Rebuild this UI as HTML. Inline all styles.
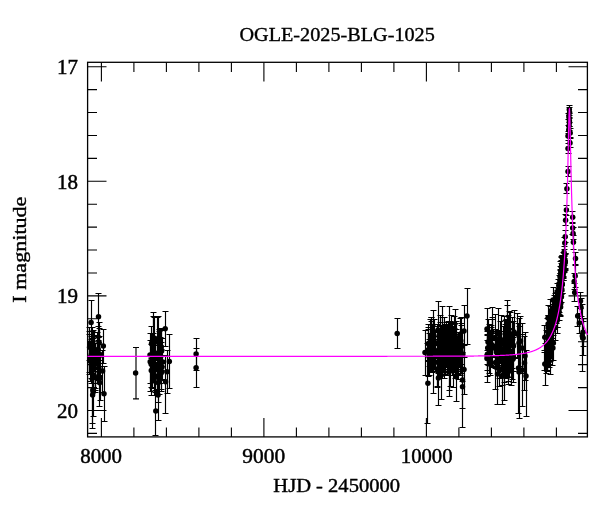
<!DOCTYPE html>
<html><head><meta charset="utf-8"><style>
html,body{margin:0;padding:0;background:#fff;}
svg{display:block;will-change:transform;}
text{font-family:"Liberation Serif",serif;fill:#000;stroke:#000;stroke-width:0.45px;}
</style></head><body>
<svg width="600" height="512" viewBox="0 0 600 512">
<rect width="600" height="512" fill="#fff"/>
<text x="239.5" y="41" font-size="19" style="stroke-width:0.35px" textLength="195.3" lengthAdjust="spacingAndGlyphs">OGLE-2025-BLG-1025</text>
<text x="57" y="74.2" font-size="20" textLength="21" lengthAdjust="spacingAndGlyphs">17</text>
<text x="57" y="188.7" font-size="20" textLength="21" lengthAdjust="spacingAndGlyphs">18</text>
<text x="57" y="303.2" font-size="20" textLength="21" lengthAdjust="spacingAndGlyphs">19</text>
<text x="57" y="417.5" font-size="20" textLength="21" lengthAdjust="spacingAndGlyphs">20</text>
<text x="80.2" y="462.7" font-size="20" textLength="41.8" lengthAdjust="spacingAndGlyphs">8000</text>
<text x="242.3" y="462.7" font-size="20" textLength="42.8" lengthAdjust="spacingAndGlyphs">9000</text>
<text x="400.8" y="462.7" font-size="20" textLength="51.7" lengthAdjust="spacingAndGlyphs">10000</text>
<text x="273.3" y="491.7" font-size="19" style="stroke-width:0.4px" textLength="126.7" lengthAdjust="spacingAndGlyphs">HJD - 2450000</text>
<text transform="translate(26.2,302.7) rotate(-90)" font-size="19" style="stroke-width:0.4px" textLength="106.1" lengthAdjust="spacingAndGlyphs">I magnitude</text>
<path d="M101.40 437V418M101.40 62.5V81.5M133.90 437V427.5M133.90 62.5V72.0M166.40 437V427.5M166.40 62.5V72.0M198.90 437V427.5M198.90 62.5V72.0M231.40 437V427.5M231.40 62.5V72.0M263.90 437V418M263.90 62.5V81.5M296.40 437V427.5M296.40 62.5V72.0M328.90 437V427.5M328.90 62.5V72.0M361.40 437V427.5M361.40 62.5V72.0M393.90 437V427.5M393.90 62.5V72.0M426.40 437V418M426.40 62.5V81.5M458.90 437V427.5M458.90 62.5V72.0M491.40 437V427.5M491.40 62.5V72.0M523.90 437V427.5M523.90 62.5V72.0M556.40 437V427.5M556.40 62.5V72.0M87.5 66.70H106.5M587.5 66.70H568.5M87.5 89.62H97.0M587.5 89.62H578.0M87.5 112.54H97.0M587.5 112.54H578.0M87.5 135.46H97.0M587.5 135.46H578.0M87.5 158.38H97.0M587.5 158.38H578.0M87.5 181.30H106.5M587.5 181.30H568.5M87.5 204.22H97.0M587.5 204.22H578.0M87.5 227.14H97.0M587.5 227.14H578.0M87.5 250.06H97.0M587.5 250.06H578.0M87.5 272.98H97.0M587.5 272.98H578.0M87.5 295.90H106.5M587.5 295.90H568.5M87.5 318.82H97.0M587.5 318.82H578.0M87.5 341.74H97.0M587.5 341.74H578.0M87.5 364.66H97.0M587.5 364.66H578.0M87.5 387.58H97.0M587.5 387.58H578.0M87.5 410.50H106.5M587.5 410.50H568.5M87.5 433.42H97.0M587.5 433.42H578.0" stroke="#000" stroke-width="1.1" fill="none"/>
<rect x="87.6" y="62.3" width="499.8" height="374.6" fill="none" stroke="#000" stroke-width="1.3"/>
<g stroke="#000" stroke-width="1.15" fill="none">
<path d="M136.0 347.5V398.8M133.0 347.5h6M133.0 398.8h6"/>
<path d="M196.5 338.5V370.5M193.5 338.5h6M193.5 370.5h6"/>
<path d="M196.5 348.5V387.5M193.5 348.5h6M193.5 387.5h6"/>
<path d="M397.5 318.5V348.5M394.5 318.5h6M394.5 348.5h6"/>
<path d="M98.5 293.5V340.5M95.5 293.5h6M95.5 340.5h6"/>
<path d="M91.5 300.5V345.5M88.5 300.5h6M88.5 345.5h6"/>
<path d="M103.5 329.5V363.5M100.5 329.5h6M100.5 363.5h6"/>
<path d="M104.5 366.5V421.5M101.5 366.5h6M101.5 421.5h6"/>
<path d="M92.5 352.5V428.5M89.5 352.5h6M89.5 428.5h6"/>
<path d="M93.5 367.5V416.5M90.5 367.5h6M90.5 416.5h6"/>
<path d="M100.5 356.5V400.5M97.5 356.5h6M97.5 400.5h6"/>
<path d="M92.5 366.5V423.5M89.5 366.5h6M89.5 423.5h6"/>
<path d="M99.5 360.5V406.5M96.5 360.5h6M96.5 406.5h6"/>
<path d="M102.5 350.5V392.5M99.5 350.5h6M99.5 392.5h6"/>
<path d="M95.5 343.5V390.5M92.5 343.5h6M92.5 390.5h6"/>
<path d="M92.5 331.5V359.5M89.5 331.5h6M89.5 359.5h6"/>
<path d="M97.5 335.5V371.5M94.5 335.5h6M94.5 371.5h6"/>
<path d="M92.5 327.5V367.5M89.5 327.5h6M89.5 367.5h6"/>
<path d="M99.5 328.5V372.5M96.5 328.5h6M96.5 372.5h6"/>
<path d="M91.5 339.5V383.5M88.5 339.5h6M88.5 383.5h6"/>
<path d="M89.5 334.5V374.5M86.5 334.5h6M86.5 374.5h6"/>
<path d="M95.5 343.5V383.5M92.5 343.5h6M92.5 383.5h6"/>
<path d="M89.5 327.5V372.5M86.5 327.5h6M86.5 372.5h6"/>
<path d="M93.5 338.5V387.5M90.5 338.5h6M90.5 387.5h6"/>
<path d="M92.5 338.5V379.5M89.5 338.5h6M89.5 379.5h6"/>
<path d="M95.5 362.5V392.5M92.5 362.5h6M92.5 392.5h6"/>
<path d="M94.5 332.5V369.5M91.5 332.5h6M91.5 369.5h6"/>
<path d="M90.5 345.5V381.5M87.5 345.5h6M87.5 381.5h6"/>
<path d="M97.5 332.5V383.5M94.5 332.5h6M94.5 383.5h6"/>
<path d="M95.5 343.5V388.5M92.5 343.5h6M92.5 388.5h6"/>
<path d="M93.5 336.5V374.5M90.5 336.5h6M90.5 374.5h6"/>
<path d="M99.5 322.5V366.5M96.5 322.5h6M96.5 366.5h6"/>
<path d="M98.5 336.5V367.5M95.5 336.5h6M95.5 367.5h6"/>
<path d="M98.5 337.5V380.5M95.5 337.5h6M95.5 380.5h6"/>
<path d="M91.5 336.5V378.5M88.5 336.5h6M88.5 378.5h6"/>
<path d="M98.5 337.5V379.5M95.5 337.5h6M95.5 379.5h6"/>
<path d="M93.5 358.5V387.5M90.5 358.5h6M90.5 387.5h6"/>
<path d="M94.5 335.5V371.5M91.5 335.5h6M91.5 371.5h6"/>
<path d="M89.5 331.5V360.5M86.5 331.5h6M86.5 360.5h6"/>
<path d="M99.5 336.5V375.5M96.5 336.5h6M96.5 375.5h6"/>
<path d="M98.5 326.5V368.5M95.5 326.5h6M95.5 368.5h6"/>
<path d="M93.5 330.5V377.5M90.5 330.5h6M90.5 377.5h6"/>
<path d="M165.5 311.5V346.5M162.5 311.5h6M162.5 346.5h6"/>
<path d="M153.5 316.5V364.5M150.5 316.5h6M150.5 364.5h6"/>
<path d="M157.5 317.5V366.5M154.5 317.5h6M154.5 366.5h6"/>
<path d="M150.5 333.5V391.5M147.5 333.5h6M147.5 391.5h6"/>
<path d="M169.5 334.5V388.5M166.5 334.5h6M166.5 388.5h6"/>
<path d="M150.5 340.5V383.5M147.5 340.5h6M147.5 383.5h6"/>
<path d="M167.5 350.5V393.5M164.5 350.5h6M164.5 393.5h6"/>
<path d="M165.5 355.5V413.5M162.5 355.5h6M162.5 413.5h6"/>
<path d="M155.5 392.5V435.5M152.5 392.5h6M152.5 435.5h6"/>
<path d="M158.5 370.5V420.5M155.5 370.5h6M155.5 420.5h6"/>
<path d="M152.5 333.5V361.5M149.5 333.5h6M149.5 361.5h6"/>
<path d="M160.5 345.5V383.5M157.5 345.5h6M157.5 383.5h6"/>
<path d="M151.5 340.5V387.5M148.5 340.5h6M148.5 387.5h6"/>
<path d="M159.5 331.5V364.5M156.5 331.5h6M156.5 364.5h6"/>
<path d="M153.5 312.5V363.5M150.5 312.5h6M150.5 363.5h6"/>
<path d="M155.5 339.5V390.5M152.5 339.5h6M152.5 390.5h6"/>
<path d="M162.5 338.5V379.5M159.5 338.5h6M159.5 379.5h6"/>
<path d="M159.5 356.5V394.5M156.5 356.5h6M156.5 394.5h6"/>
<path d="M155.5 339.5V369.5M152.5 339.5h6M152.5 369.5h6"/>
<path d="M157.5 357.5V391.5M154.5 357.5h6M154.5 391.5h6"/>
<path d="M159.5 329.5V373.5M156.5 329.5h6M156.5 373.5h6"/>
<path d="M154.5 345.5V378.5M151.5 345.5h6M151.5 378.5h6"/>
<path d="M153.5 333.5V382.5M150.5 333.5h6M150.5 382.5h6"/>
<path d="M158.5 360.5V402.5M155.5 360.5h6M155.5 402.5h6"/>
<path d="M154.5 317.5V356.5M151.5 317.5h6M151.5 356.5h6"/>
<path d="M158.5 338.5V367.5M155.5 338.5h6M155.5 367.5h6"/>
<path d="M160.5 328.5V374.5M157.5 328.5h6M157.5 374.5h6"/>
<path d="M161.5 342.5V391.5M158.5 342.5h6M158.5 391.5h6"/>
<path d="M161.5 360.5V389.5M158.5 360.5h6M158.5 389.5h6"/>
<path d="M154.5 362.5V395.5M151.5 362.5h6M151.5 395.5h6"/>
<path d="M151.5 326.5V358.5M148.5 326.5h6M148.5 358.5h6"/>
<path d="M151.5 344.5V395.5M148.5 344.5h6M148.5 395.5h6"/>
<path d="M160.5 337.5V380.5M157.5 337.5h6M157.5 380.5h6"/>
<path d="M157.5 341.5V389.5M154.5 341.5h6M154.5 389.5h6"/>
<path d="M161.5 330.5V366.5M158.5 330.5h6M158.5 366.5h6"/>
<path d="M152.5 341.5V388.5M149.5 341.5h6M149.5 388.5h6"/>
<path d="M161.5 349.5V380.5M158.5 349.5h6M158.5 380.5h6"/>
<path d="M161.5 328.5V370.5M158.5 328.5h6M158.5 370.5h6"/>
<path d="M158.5 316.5V360.5M155.5 316.5h6M155.5 360.5h6"/>
<path d="M160.5 329.5V365.5M157.5 329.5h6M157.5 365.5h6"/>
<path d="M467.5 288.5V344.5M464.5 288.5h6M464.5 344.5h6"/>
<path d="M438.5 301.5V358.5M435.5 301.5h6M435.5 358.5h6"/>
<path d="M442.5 306.5V360.5M439.5 306.5h6M439.5 360.5h6"/>
<path d="M433.5 310.5V366.5M430.5 310.5h6M430.5 366.5h6"/>
<path d="M455.5 309.5V365.5M452.5 309.5h6M452.5 365.5h6"/>
<path d="M464.5 305.5V357.5M461.5 305.5h6M461.5 357.5h6"/>
<path d="M461.5 317.5V373.5M458.5 317.5h6M458.5 373.5h6"/>
<path d="M431.5 321.5V371.5M428.5 321.5h6M428.5 371.5h6"/>
<path d="M428.5 324.5V376.5M425.5 324.5h6M425.5 376.5h6"/>
<path d="M448.5 321.5V372.5M445.5 321.5h6M445.5 372.5h6"/>
<path d="M425.5 330.5V375.5M422.5 330.5h6M422.5 375.5h6"/>
<path d="M464.5 345.5V394.5M461.5 345.5h6M461.5 394.5h6"/>
<path d="M427.5 343.5V423.5M424.5 343.5h6M424.5 423.5h6"/>
<path d="M462.5 345.5V427.5M459.5 345.5h6M459.5 427.5h6"/>
<path d="M462.5 352.5V408.5M459.5 352.5h6M459.5 408.5h6"/>
<path d="M438.5 350.5V405.5M435.5 350.5h6M435.5 405.5h6"/>
<path d="M441.5 351.5V399.5M438.5 351.5h6M438.5 399.5h6"/>
<path d="M456.5 351.5V401.5M453.5 351.5h6M453.5 401.5h6"/>
<path d="M449.5 348.5V396.5M446.5 348.5h6M446.5 396.5h6"/>
<path d="M433.5 343.5V393.5M430.5 343.5h6M430.5 393.5h6"/>
<path d="M458.5 339.5V374.5M455.5 339.5h6M455.5 374.5h6"/>
<path d="M450.5 343.5V386.5M447.5 343.5h6M447.5 386.5h6"/>
<path d="M440.5 330.5V370.5M437.5 330.5h6M437.5 370.5h6"/>
<path d="M429.5 333.5V366.5M426.5 333.5h6M426.5 366.5h6"/>
<path d="M456.5 332.5V370.5M453.5 332.5h6M453.5 370.5h6"/>
<path d="M433.5 319.5V360.5M430.5 319.5h6M430.5 360.5h6"/>
<path d="M453.5 327.5V364.5M450.5 327.5h6M450.5 364.5h6"/>
<path d="M454.5 338.5V371.5M451.5 338.5h6M451.5 371.5h6"/>
<path d="M429.5 339.5V375.5M426.5 339.5h6M426.5 375.5h6"/>
<path d="M456.5 329.5V364.5M453.5 329.5h6M453.5 364.5h6"/>
<path d="M458.5 332.5V379.5M455.5 332.5h6M455.5 379.5h6"/>
<path d="M452.5 322.5V370.5M449.5 322.5h6M449.5 370.5h6"/>
<path d="M439.5 331.5V372.5M436.5 331.5h6M436.5 372.5h6"/>
<path d="M433.5 326.5V368.5M430.5 326.5h6M430.5 368.5h6"/>
<path d="M459.5 332.5V367.5M456.5 332.5h6M456.5 367.5h6"/>
<path d="M449.5 306.5V359.5M446.5 306.5h6M446.5 359.5h6"/>
<path d="M457.5 336.5V375.5M454.5 336.5h6M454.5 375.5h6"/>
<path d="M432.5 324.5V371.5M429.5 324.5h6M429.5 371.5h6"/>
<path d="M442.5 335.5V375.5M439.5 335.5h6M439.5 375.5h6"/>
<path d="M457.5 336.5V374.5M454.5 336.5h6M454.5 374.5h6"/>
<path d="M452.5 323.5V372.5M449.5 323.5h6M449.5 372.5h6"/>
<path d="M440.5 322.5V369.5M437.5 322.5h6M437.5 369.5h6"/>
<path d="M431.5 317.5V365.5M428.5 317.5h6M428.5 365.5h6"/>
<path d="M430.5 319.5V371.5M427.5 319.5h6M427.5 371.5h6"/>
<path d="M432.5 325.5V365.5M429.5 325.5h6M429.5 365.5h6"/>
<path d="M433.5 336.5V371.5M430.5 336.5h6M430.5 371.5h6"/>
<path d="M428.5 329.5V360.5M425.5 329.5h6M425.5 360.5h6"/>
<path d="M437.5 345.5V386.5M434.5 345.5h6M434.5 386.5h6"/>
<path d="M462.5 331.5V381.5M459.5 331.5h6M459.5 381.5h6"/>
<path d="M440.5 333.5V367.5M437.5 333.5h6M437.5 367.5h6"/>
<path d="M444.5 344.5V378.5M441.5 344.5h6M441.5 378.5h6"/>
<path d="M443.5 327.5V372.5M440.5 327.5h6M440.5 372.5h6"/>
<path d="M445.5 332.5V374.5M442.5 332.5h6M442.5 374.5h6"/>
<path d="M445.5 324.5V371.5M442.5 324.5h6M442.5 371.5h6"/>
<path d="M432.5 333.5V366.5M429.5 333.5h6M429.5 366.5h6"/>
<path d="M460.5 318.5V369.5M457.5 318.5h6M457.5 369.5h6"/>
<path d="M444.5 317.5V369.5M441.5 317.5h6M441.5 369.5h6"/>
<path d="M437.5 355.5V387.5M434.5 355.5h6M434.5 387.5h6"/>
<path d="M443.5 325.5V372.5M440.5 325.5h6M440.5 372.5h6"/>
<path d="M454.5 316.5V365.5M451.5 316.5h6M451.5 365.5h6"/>
<path d="M453.5 329.5V363.5M450.5 329.5h6M450.5 363.5h6"/>
<path d="M432.5 329.5V372.5M429.5 329.5h6M429.5 372.5h6"/>
<path d="M460.5 333.5V375.5M457.5 333.5h6M457.5 375.5h6"/>
<path d="M461.5 323.5V371.5M458.5 323.5h6M458.5 371.5h6"/>
<path d="M455.5 334.5V378.5M452.5 334.5h6M452.5 378.5h6"/>
<path d="M442.5 332.5V378.5M439.5 332.5h6M439.5 378.5h6"/>
<path d="M438.5 339.5V373.5M435.5 339.5h6M435.5 373.5h6"/>
<path d="M454.5 324.5V371.5M451.5 324.5h6M451.5 371.5h6"/>
<path d="M461.5 325.5V364.5M458.5 325.5h6M458.5 364.5h6"/>
<path d="M445.5 343.5V375.5M442.5 343.5h6M442.5 375.5h6"/>
<path d="M446.5 328.5V359.5M443.5 328.5h6M443.5 359.5h6"/>
<path d="M449.5 331.5V362.5M446.5 331.5h6M446.5 362.5h6"/>
<path d="M434.5 319.5V369.5M431.5 319.5h6M431.5 369.5h6"/>
<path d="M442.5 328.5V374.5M439.5 328.5h6M439.5 374.5h6"/>
<path d="M455.5 323.5V367.5M452.5 323.5h6M452.5 367.5h6"/>
<path d="M451.5 330.5V369.5M448.5 330.5h6M448.5 369.5h6"/>
<path d="M440.5 337.5V376.5M437.5 337.5h6M437.5 376.5h6"/>
<path d="M453.5 331.5V368.5M450.5 331.5h6M450.5 368.5h6"/>
<path d="M440.5 315.5V362.5M437.5 315.5h6M437.5 362.5h6"/>
<path d="M452.5 326.5V375.5M449.5 326.5h6M449.5 375.5h6"/>
<path d="M446.5 322.5V367.5M443.5 322.5h6M443.5 367.5h6"/>
<path d="M441.5 329.5V366.5M438.5 329.5h6M438.5 366.5h6"/>
<path d="M441.5 325.5V365.5M438.5 325.5h6M438.5 365.5h6"/>
<path d="M447.5 325.5V375.5M444.5 325.5h6M444.5 375.5h6"/>
<path d="M435.5 330.5V371.5M432.5 330.5h6M432.5 371.5h6"/>
<path d="M428.5 327.5V361.5M425.5 327.5h6M425.5 361.5h6"/>
<path d="M456.5 321.5V362.5M453.5 321.5h6M453.5 362.5h6"/>
<path d="M442.5 317.5V359.5M439.5 317.5h6M439.5 359.5h6"/>
<path d="M437.5 324.5V371.5M434.5 324.5h6M434.5 371.5h6"/>
<path d="M453.5 346.5V387.5M450.5 346.5h6M450.5 387.5h6"/>
<path d="M451.5 315.5V360.5M448.5 315.5h6M448.5 360.5h6"/>
<path d="M449.5 330.5V371.5M446.5 330.5h6M446.5 371.5h6"/>
<path d="M449.5 338.5V390.5M446.5 338.5h6M446.5 390.5h6"/>
<path d="M437.5 336.5V367.5M434.5 336.5h6M434.5 367.5h6"/>
<path d="M454.5 328.5V363.5M451.5 328.5h6M451.5 363.5h6"/>
<path d="M437.5 326.5V367.5M434.5 326.5h6M434.5 367.5h6"/>
<path d="M450.5 321.5V368.5M447.5 321.5h6M447.5 368.5h6"/>
<path d="M438.5 332.5V372.5M435.5 332.5h6M435.5 372.5h6"/>
<path d="M431.5 317.5V361.5M428.5 317.5h6M428.5 361.5h6"/>
<path d="M431.5 327.5V363.5M428.5 327.5h6M428.5 363.5h6"/>
<path d="M487.5 308.5V350.5M484.5 308.5h6M484.5 350.5h6"/>
<path d="M507.5 305.5V355.5M504.5 305.5h6M504.5 355.5h6"/>
<path d="M495.5 314.5V362.5M492.5 314.5h6M492.5 362.5h6"/>
<path d="M488.5 319.5V365.5M485.5 319.5h6M485.5 365.5h6"/>
<path d="M501.5 315.5V365.5M498.5 315.5h6M498.5 365.5h6"/>
<path d="M504.5 316.5V366.5M501.5 316.5h6M501.5 366.5h6"/>
<path d="M509.5 311.5V361.5M506.5 311.5h6M506.5 361.5h6"/>
<path d="M510.5 312.5V362.5M507.5 312.5h6M507.5 362.5h6"/>
<path d="M520.5 316.5V366.5M517.5 316.5h6M517.5 366.5h6"/>
<path d="M519.5 318.5V368.5M516.5 318.5h6M516.5 368.5h6"/>
<path d="M513.5 321.5V371.5M510.5 321.5h6M510.5 371.5h6"/>
<path d="M522.5 323.5V373.5M519.5 323.5h6M519.5 373.5h6"/>
<path d="M525.5 332.5V380.5M522.5 332.5h6M522.5 380.5h6"/>
<path d="M524.5 336.5V390.5M521.5 336.5h6M521.5 390.5h6"/>
<path d="M526.5 350.5V416.5M523.5 350.5h6M523.5 416.5h6"/>
<path d="M502.5 350.5V404.5M499.5 350.5h6M499.5 404.5h6"/>
<path d="M487.5 335.5V382.5M484.5 335.5h6M484.5 382.5h6"/>
<path d="M497.5 344.5V404.5M494.5 344.5h6M494.5 404.5h6"/>
<path d="M504.5 352.5V400.5M501.5 352.5h6M501.5 400.5h6"/>
<path d="M518.5 323.5V413.5M515.5 323.5h6M515.5 413.5h6"/>
<path d="M519.5 326.5V418.5M516.5 326.5h6M516.5 418.5h6"/>
<path d="M522.5 334.5V406.5M519.5 334.5h6M519.5 406.5h6"/>
<path d="M507.5 300.5V350.5M504.5 300.5h6M504.5 350.5h6"/>
<path d="M492.5 307.5V356.5M489.5 307.5h6M489.5 356.5h6"/>
<path d="M498.5 308.5V358.5M495.5 308.5h6M495.5 358.5h6"/>
<path d="M514.5 310.5V357.5M511.5 310.5h6M511.5 357.5h6"/>
<path d="M517.5 313.5V358.5M514.5 313.5h6M514.5 358.5h6"/>
<path d="M487.5 331.5V364.5M484.5 331.5h6M484.5 364.5h6"/>
<path d="M487.5 334.5V370.5M484.5 334.5h6M484.5 370.5h6"/>
<path d="M492.5 319.5V357.5M489.5 319.5h6M489.5 357.5h6"/>
<path d="M509.5 328.5V377.5M506.5 328.5h6M506.5 377.5h6"/>
<path d="M505.5 334.5V377.5M502.5 334.5h6M502.5 377.5h6"/>
<path d="M508.5 335.5V384.5M505.5 335.5h6M505.5 384.5h6"/>
<path d="M490.5 344.5V375.5M487.5 344.5h6M487.5 375.5h6"/>
<path d="M512.5 317.5V359.5M509.5 317.5h6M509.5 359.5h6"/>
<path d="M505.5 324.5V373.5M502.5 324.5h6M502.5 373.5h6"/>
<path d="M496.5 335.5V366.5M493.5 335.5h6M493.5 366.5h6"/>
<path d="M506.5 330.5V378.5M503.5 330.5h6M503.5 378.5h6"/>
<path d="M496.5 331.5V364.5M493.5 331.5h6M493.5 364.5h6"/>
<path d="M495.5 340.5V389.5M492.5 340.5h6M492.5 389.5h6"/>
<path d="M512.5 321.5V368.5M509.5 321.5h6M509.5 368.5h6"/>
<path d="M487.5 340.5V376.5M484.5 340.5h6M484.5 376.5h6"/>
<path d="M509.5 329.5V364.5M506.5 329.5h6M506.5 364.5h6"/>
<path d="M513.5 337.5V382.5M510.5 337.5h6M510.5 382.5h6"/>
<path d="M509.5 317.5V358.5M506.5 317.5h6M506.5 358.5h6"/>
<path d="M502.5 353.5V385.5M499.5 353.5h6M499.5 385.5h6"/>
<path d="M508.5 341.5V377.5M505.5 341.5h6M505.5 377.5h6"/>
<path d="M499.5 350.5V386.5M496.5 350.5h6M496.5 386.5h6"/>
<path d="M504.5 344.5V382.5M501.5 344.5h6M501.5 382.5h6"/>
<path d="M506.5 333.5V364.5M503.5 333.5h6M503.5 364.5h6"/>
<path d="M506.5 319.5V363.5M503.5 319.5h6M503.5 363.5h6"/>
<path d="M500.5 321.5V360.5M497.5 321.5h6M497.5 360.5h6"/>
<path d="M495.5 333.5V367.5M492.5 333.5h6M492.5 367.5h6"/>
<path d="M491.5 327.5V366.5M488.5 327.5h6M488.5 366.5h6"/>
<path d="M507.5 340.5V376.5M504.5 340.5h6M504.5 376.5h6"/>
<path d="M501.5 331.5V363.5M498.5 331.5h6M498.5 363.5h6"/>
<path d="M500.5 331.5V362.5M497.5 331.5h6M497.5 362.5h6"/>
<path d="M511.5 355.5V385.5M508.5 355.5h6M508.5 385.5h6"/>
<path d="M497.5 337.5V369.5M494.5 337.5h6M494.5 369.5h6"/>
<path d="M509.5 322.5V361.5M506.5 322.5h6M506.5 361.5h6"/>
<path d="M495.5 329.5V368.5M492.5 329.5h6M492.5 368.5h6"/>
<path d="M489.5 324.5V373.5M486.5 324.5h6M486.5 373.5h6"/>
<path d="M505.5 320.5V362.5M502.5 320.5h6M502.5 362.5h6"/>
<path d="M503.5 331.5V373.5M500.5 331.5h6M500.5 373.5h6"/>
<path d="M503.5 326.5V359.5M500.5 326.5h6M500.5 359.5h6"/>
<path d="M509.5 329.5V370.5M506.5 329.5h6M506.5 370.5h6"/>
<path d="M498.5 330.5V368.5M495.5 330.5h6M495.5 368.5h6"/>
<path d="M506.5 330.5V362.5M503.5 330.5h6M503.5 362.5h6"/>
<path d="M512.5 343.5V379.5M509.5 343.5h6M509.5 379.5h6"/>
<path d="M510.5 336.5V367.5M507.5 336.5h6M507.5 367.5h6"/>
<path d="M492.5 317.5V367.5M489.5 317.5h6M489.5 367.5h6"/>
<path d="M491.5 325.5V365.5M488.5 325.5h6M488.5 365.5h6"/>
<path d="M499.5 333.5V370.5M496.5 333.5h6M496.5 370.5h6"/>
<path d="M508.5 315.5V361.5M505.5 315.5h6M505.5 361.5h6"/>
<path d="M508.5 333.5V381.5M505.5 333.5h6M505.5 381.5h6"/>
<path d="M499.5 338.5V378.5M496.5 338.5h6M496.5 378.5h6"/>
<path d="M490.5 334.5V365.5M487.5 334.5h6M487.5 365.5h6"/>
<path d="M545.5 343.5V385.5M542.5 343.5h6M542.5 385.5h6"/>
<path d="M550.5 336.5V374.5M547.5 336.5h6M547.5 374.5h6"/>
<path d="M552.5 330.5V365.5M549.5 330.5h6M549.5 365.5h6"/>
<path d="M553.5 325.5V360.5M550.5 325.5h6M550.5 360.5h6"/>
<path d="M546.5 330.5V370.5M543.5 330.5h6M543.5 370.5h6"/>
<path d="M553.5 287.5V313.5M550.5 287.5h6M550.5 313.5h6"/>
<path d="M548.5 305.5V331.5M545.5 305.5h6M545.5 331.5h6"/>
<path d="M544.5 325.5V350.5M541.5 325.5h6M541.5 350.5h6"/>
<path d="M544.5 352.5V370.5M541.5 352.5h6M541.5 370.5h6"/>
<path d="M562.5 264.5V278.5M559.5 264.5h6M559.5 278.5h6"/>
<path d="M551.5 312.5V325.5M548.5 312.5h6M548.5 325.5h6"/>
<path d="M560.5 286.5V298.5M557.5 286.5h6M557.5 298.5h6"/>
<path d="M559.5 291.5V308.5M556.5 291.5h6M556.5 308.5h6"/>
<path d="M550.5 342.5V358.5M547.5 342.5h6M547.5 358.5h6"/>
<path d="M548.5 327.5V341.5M545.5 327.5h6M545.5 341.5h6"/>
<path d="M558.5 290.5V316.5M555.5 290.5h6M555.5 316.5h6"/>
<path d="M562.5 265.5V280.5M559.5 265.5h6M559.5 280.5h6"/>
<path d="M563.5 263.5V280.5M560.5 263.5h6M560.5 280.5h6"/>
<path d="M563.5 266.5V276.5M560.5 266.5h6M560.5 276.5h6"/>
<path d="M562.5 257.5V277.5M559.5 257.5h6M559.5 277.5h6"/>
<path d="M565.5 253.5V269.5M562.5 253.5h6M562.5 269.5h6"/>
<path d="M563.5 257.5V272.5M560.5 257.5h6M560.5 272.5h6"/>
<path d="M557.5 305.5V327.5M554.5 305.5h6M554.5 327.5h6"/>
<path d="M546.5 350.5V373.5M543.5 350.5h6M543.5 373.5h6"/>
<path d="M559.5 288.5V312.5M556.5 288.5h6M556.5 312.5h6"/>
<path d="M547.5 351.5V370.5M544.5 351.5h6M544.5 370.5h6"/>
<path d="M549.5 347.5V364.5M546.5 347.5h6M546.5 364.5h6"/>
<path d="M547.5 347.5V364.5M544.5 347.5h6M544.5 364.5h6"/>
<path d="M549.5 327.5V345.5M546.5 327.5h6M546.5 345.5h6"/>
<path d="M558.5 292.5V303.5M555.5 292.5h6M555.5 303.5h6"/>
<path d="M564.5 256.5V272.5M561.5 256.5h6M561.5 272.5h6"/>
<path d="M553.5 320.5V335.5M550.5 320.5h6M550.5 335.5h6"/>
<path d="M559.5 275.5V288.5M556.5 275.5h6M556.5 288.5h6"/>
<path d="M548.5 328.5V345.5M545.5 328.5h6M545.5 345.5h6"/>
<path d="M549.5 317.5V330.5M546.5 317.5h6M546.5 330.5h6"/>
<path d="M552.5 322.5V338.5M549.5 322.5h6M549.5 338.5h6"/>
<path d="M548.5 315.5V332.5M545.5 315.5h6M545.5 332.5h6"/>
<path d="M551.5 309.5V326.5M548.5 309.5h6M548.5 326.5h6"/>
<path d="M554.5 314.5V328.5M551.5 314.5h6M551.5 328.5h6"/>
<path d="M547.5 318.5V344.5M544.5 318.5h6M544.5 344.5h6"/>
<path d="M560.5 273.5V284.5M557.5 273.5h6M557.5 284.5h6"/>
<path d="M547.5 350.5V371.5M544.5 350.5h6M544.5 371.5h6"/>
<path d="M548.5 354.5V367.5M545.5 354.5h6M545.5 367.5h6"/>
<path d="M556.5 301.5V323.5M553.5 301.5h6M553.5 323.5h6"/>
<path d="M558.5 288.5V297.5M555.5 288.5h6M555.5 297.5h6"/>
<path d="M563.5 256.5V266.5M560.5 256.5h6M560.5 266.5h6"/>
<path d="M560.5 273.5V284.5M557.5 273.5h6M557.5 284.5h6"/>
<path d="M565.5 253.5V268.5M562.5 253.5h6M562.5 268.5h6"/>
<path d="M561.5 274.5V284.5M558.5 274.5h6M558.5 284.5h6"/>
<path d="M562.5 273.5V293.5M559.5 273.5h6M559.5 293.5h6"/>
<path d="M548.5 315.5V332.5M545.5 315.5h6M545.5 332.5h6"/>
<path d="M562.5 255.5V265.5M559.5 255.5h6M559.5 265.5h6"/>
<path d="M562.5 265.5V276.5M559.5 265.5h6M559.5 276.5h6"/>
<path d="M563.5 267.5V280.5M560.5 267.5h6M560.5 280.5h6"/>
<path d="M557.5 283.5V301.5M554.5 283.5h6M554.5 301.5h6"/>
<path d="M551.5 318.5V338.5M548.5 318.5h6M548.5 338.5h6"/>
<path d="M561.5 260.5V276.5M558.5 260.5h6M558.5 276.5h6"/>
<path d="M549.5 346.5V367.5M546.5 346.5h6M546.5 367.5h6"/>
<path d="M550.5 299.5V324.5M547.5 299.5h6M547.5 324.5h6"/>
<path d="M561.5 256.5V273.5M558.5 256.5h6M558.5 273.5h6"/>
<path d="M550.5 333.5V351.5M547.5 333.5h6M547.5 351.5h6"/>
<path d="M560.5 266.5V285.5M557.5 266.5h6M557.5 285.5h6"/>
<path d="M547.5 347.5V371.5M544.5 347.5h6M544.5 371.5h6"/>
<path d="M557.5 292.5V307.5M554.5 292.5h6M554.5 307.5h6"/>
<path d="M563.5 252.5V264.5M560.5 252.5h6M560.5 264.5h6"/>
<path d="M550.5 320.5V344.5M547.5 320.5h6M547.5 344.5h6"/>
<path d="M547.5 343.5V359.5M544.5 343.5h6M544.5 359.5h6"/>
<path d="M548.5 348.5V362.5M545.5 348.5h6M545.5 362.5h6"/>
<path d="M565.5 254.5V270.5M562.5 254.5h6M562.5 270.5h6"/>
<path d="M563.5 256.5V271.5M560.5 256.5h6M560.5 271.5h6"/>
<path d="M560.5 290.5V315.5M557.5 290.5h6M557.5 315.5h6"/>
<path d="M561.5 263.5V278.5M558.5 263.5h6M558.5 278.5h6"/>
<path d="M549.5 333.5V355.5M546.5 333.5h6M546.5 355.5h6"/>
<path d="M551.5 306.5V329.5M548.5 306.5h6M548.5 329.5h6"/>
<path d="M564.5 253.5V265.5M561.5 253.5h6M561.5 265.5h6"/>
<path d="M560.5 297.5V316.5M557.5 297.5h6M557.5 316.5h6"/>
<path d="M562.5 255.5V272.5M559.5 255.5h6M559.5 272.5h6"/>
<path d="M562.5 258.5V268.5M559.5 258.5h6M559.5 268.5h6"/>
<path d="M553.5 304.5V323.5M550.5 304.5h6M550.5 323.5h6"/>
<path d="M560.5 282.5V294.5M557.5 282.5h6M557.5 294.5h6"/>
<path d="M550.5 342.5V361.5M547.5 342.5h6M547.5 361.5h6"/>
<path d="M559.5 298.5V314.5M556.5 298.5h6M556.5 314.5h6"/>
<path d="M548.5 330.5V352.5M545.5 330.5h6M545.5 352.5h6"/>
<path d="M559.5 282.5V302.5M556.5 282.5h6M556.5 302.5h6"/>
<path d="M564.5 255.5V271.5M561.5 255.5h6M561.5 271.5h6"/>
<path d="M557.5 292.5V302.5M554.5 292.5h6M554.5 302.5h6"/>
<path d="M560.5 279.5V290.5M557.5 279.5h6M557.5 290.5h6"/>
<path d="M555.5 314.5V340.5M552.5 314.5h6M552.5 340.5h6"/>
<path d="M549.5 343.5V357.5M546.5 343.5h6M546.5 357.5h6"/>
<path d="M547.5 346.5V370.5M544.5 346.5h6M544.5 370.5h6"/>
<path d="M549.5 339.5V358.5M546.5 339.5h6M546.5 358.5h6"/>
<path d="M561.5 272.5V285.5M558.5 272.5h6M558.5 285.5h6"/>
<path d="M560.5 261.5V280.5M557.5 261.5h6M557.5 280.5h6"/>
<path d="M547.5 347.5V360.5M544.5 347.5h6M544.5 360.5h6"/>
<path d="M558.5 279.5V291.5M555.5 279.5h6M555.5 291.5h6"/>
<path d="M553.5 309.5V327.5M550.5 309.5h6M550.5 327.5h6"/>
<path d="M561.5 272.5V285.5M558.5 272.5h6M558.5 285.5h6"/>
<path d="M558.5 289.5V309.5M555.5 289.5h6M555.5 309.5h6"/>
<path d="M561.5 277.5V290.5M558.5 277.5h6M558.5 290.5h6"/>
<path d="M548.5 341.5V360.5M545.5 341.5h6M545.5 360.5h6"/>
<path d="M549.5 342.5V355.5M546.5 342.5h6M546.5 355.5h6"/>
<path d="M563.5 267.5V277.5M560.5 267.5h6M560.5 277.5h6"/>
<path d="M561.5 284.5V294.5M558.5 284.5h6M558.5 294.5h6"/>
<path d="M560.5 269.5V280.5M557.5 269.5h6M557.5 280.5h6"/>
<path d="M557.5 298.5V315.5M554.5 298.5h6M554.5 315.5h6"/>
<path d="M563.5 259.5V278.5M560.5 259.5h6M560.5 278.5h6"/>
<path d="M550.5 306.5V326.5M547.5 306.5h6M547.5 326.5h6"/>
<path d="M552.5 311.5V335.5M549.5 311.5h6M549.5 335.5h6"/>
<path d="M558.5 293.5V304.5M555.5 293.5h6M555.5 304.5h6"/>
<path d="M557.5 305.5V327.5M554.5 305.5h6M554.5 327.5h6"/>
<path d="M562.5 275.5V293.5M559.5 275.5h6M559.5 293.5h6"/>
<path d="M557.5 290.5V313.5M554.5 290.5h6M554.5 313.5h6"/>
<path d="M561.5 267.5V285.5M558.5 267.5h6M558.5 285.5h6"/>
<path d="M559.5 302.5V320.5M556.5 302.5h6M556.5 320.5h6"/>
<path d="M555.5 293.5V318.5M552.5 293.5h6M552.5 318.5h6"/>
<path d="M560.5 283.5V297.5M557.5 283.5h6M557.5 297.5h6"/>
<path d="M549.5 349.5V361.5M546.5 349.5h6M546.5 361.5h6"/>
<path d="M548.5 354.5V367.5M545.5 354.5h6M545.5 367.5h6"/>
<path d="M552.5 299.5V319.5M549.5 299.5h6M549.5 319.5h6"/>
<path d="M560.5 270.5V283.5M557.5 270.5h6M557.5 283.5h6"/>
<path d="M557.5 308.5V333.5M554.5 308.5h6M554.5 333.5h6"/>
<path d="M559.5 287.5V297.5M556.5 287.5h6M556.5 297.5h6"/>
<path d="M561.5 291.5V302.5M558.5 291.5h6M558.5 302.5h6"/>
<path d="M549.5 340.5V356.5M546.5 340.5h6M546.5 356.5h6"/>
<path d="M548.5 326.5V351.5M545.5 326.5h6M545.5 351.5h6"/>
<path d="M561.5 257.5V275.5M558.5 257.5h6M558.5 275.5h6"/>
<path d="M554.5 295.5V314.5M551.5 295.5h6M551.5 314.5h6"/>
<path d="M560.5 279.5V297.5M557.5 279.5h6M557.5 297.5h6"/>
<path d="M547.5 336.5V357.5M544.5 336.5h6M544.5 357.5h6"/>
<path d="M569.5 118.5V126.5M566.5 118.5h6M566.5 126.5h6"/>
<path d="M568.5 125.5V133.5M565.5 125.5h6M565.5 133.5h6"/>
<path d="M568.5 131.5V140.5M565.5 131.5h6M565.5 140.5h6"/>
<path d="M570.5 138.5V147.5M567.5 138.5h6M567.5 147.5h6"/>
<path d="M568.5 143.5V153.5M565.5 143.5h6M565.5 153.5h6"/>
<path d="M568.5 166.5V176.5M565.5 166.5h6M565.5 176.5h6"/>
<path d="M566.5 183.5V193.5M563.5 183.5h6M563.5 193.5h6"/>
<path d="M566.5 205.5V215.5M563.5 205.5h6M563.5 215.5h6"/>
<path d="M565.5 214.5V225.5M562.5 214.5h6M562.5 225.5h6"/>
<path d="M565.5 230.5V242.5M562.5 230.5h6M562.5 242.5h6"/>
<path d="M564.5 237.5V249.5M561.5 237.5h6M561.5 249.5h6"/>
<path d="M564.5 246.5V258.5M561.5 246.5h6M561.5 258.5h6"/>
<path d="M569.5 105.5V113.5M566.5 105.5h6M566.5 113.5h6"/>
<path d="M569.5 107.5V117.5M566.5 107.5h6M566.5 117.5h6"/>
<path d="M568.5 113.5V119.5M565.5 113.5h6M565.5 119.5h6"/>
<path d="M569.5 115.5V126.5M566.5 115.5h6M566.5 126.5h6"/>
<path d="M569.5 122.5V130.5M566.5 122.5h6M566.5 130.5h6"/>
<path d="M570.5 128.5V137.5M567.5 128.5h6M567.5 137.5h6"/>
<path d="M572.5 211.5V223.5M569.5 211.5h6M569.5 223.5h6"/>
<path d="M572.5 222.5V234.5M569.5 222.5h6M569.5 234.5h6"/>
<path d="M573.5 227.5V239.5M570.5 227.5h6M570.5 239.5h6"/>
<path d="M573.5 235.5V249.5M570.5 235.5h6M570.5 249.5h6"/>
<path d="M575.5 265.5V287.5M572.5 265.5h6M572.5 287.5h6"/>
<path d="M574.5 273.5V289.5M571.5 273.5h6M571.5 289.5h6"/>
<path d="M574.5 283.5V301.5M571.5 283.5h6M571.5 301.5h6"/>
<path d="M580.5 292.5V308.5M577.5 292.5h6M577.5 308.5h6"/>
<path d="M581.5 298.5V316.5M578.5 298.5h6M578.5 316.5h6"/>
<path d="M577.5 306.5V326.5M574.5 306.5h6M574.5 326.5h6"/>
<path d="M579.5 313.5V333.5M576.5 313.5h6M576.5 333.5h6"/>
<path d="M583.5 318.5V346.5M580.5 318.5h6M580.5 346.5h6"/>
<path d="M583.5 321.5V355.5M580.5 321.5h6M580.5 355.5h6"/>
<path d="M582.5 304.5V371.5M579.5 304.5h6M579.5 371.5h6"/>
<path d="M582.5 318.5V355.5M579.5 318.5h6M579.5 355.5h6"/>
<path d="M575.5 252.5V264.5M572.5 252.5h6M572.5 264.5h6"/>
</g><g fill="#000">
<circle cx="135.6" cy="373.0" r="2.75"/>
<circle cx="196.1" cy="354.0" r="2.75"/>
<circle cx="196.1" cy="367.7" r="2.75"/>
<circle cx="397.2" cy="333.4" r="2.75"/>
<circle cx="98.5" cy="316.8" r="2.75"/>
<circle cx="91.1" cy="322.5" r="2.75"/>
<circle cx="103.3" cy="346.1" r="2.75"/>
<circle cx="104.0" cy="393.7" r="2.75"/>
<circle cx="92.8" cy="390.0" r="2.75"/>
<circle cx="93.2" cy="392.0" r="2.75"/>
<circle cx="100.0" cy="378.0" r="2.75"/>
<circle cx="92.6" cy="395.0" r="2.75"/>
<circle cx="99.6" cy="382.7" r="2.75"/>
<circle cx="102.6" cy="371.0" r="2.75"/>
<circle cx="95.8" cy="363.9" r="2.75"/>
<circle cx="92.5" cy="347.1" r="2.75"/>
<circle cx="97.5" cy="351.9" r="2.75"/>
<circle cx="92.0" cy="347.9" r="2.75"/>
<circle cx="99.5" cy="354.1" r="2.75"/>
<circle cx="91.7" cy="356.9" r="2.75"/>
<circle cx="89.9" cy="357.6" r="2.75"/>
<circle cx="95.8" cy="361.5" r="2.75"/>
<circle cx="89.6" cy="347.3" r="2.75"/>
<circle cx="93.2" cy="359.6" r="2.75"/>
<circle cx="92.2" cy="361.4" r="2.75"/>
<circle cx="95.9" cy="377.7" r="2.75"/>
<circle cx="94.6" cy="351.7" r="2.75"/>
<circle cx="90.1" cy="361.0" r="2.75"/>
<circle cx="97.7" cy="359.1" r="2.75"/>
<circle cx="95.6" cy="362.6" r="2.75"/>
<circle cx="93.9" cy="352.5" r="2.75"/>
<circle cx="99.2" cy="342.8" r="2.75"/>
<circle cx="98.2" cy="354.0" r="2.75"/>
<circle cx="98.9" cy="355.7" r="2.75"/>
<circle cx="91.4" cy="354.4" r="2.75"/>
<circle cx="98.3" cy="357.4" r="2.75"/>
<circle cx="93.6" cy="375.2" r="2.75"/>
<circle cx="94.2" cy="355.6" r="2.75"/>
<circle cx="89.8" cy="343.2" r="2.75"/>
<circle cx="99.2" cy="356.0" r="2.75"/>
<circle cx="98.2" cy="349.2" r="2.75"/>
<circle cx="93.1" cy="357.7" r="2.75"/>
<circle cx="165.2" cy="328.8" r="2.75"/>
<circle cx="153.9" cy="340.0" r="2.75"/>
<circle cx="157.3" cy="342.0" r="2.75"/>
<circle cx="150.0" cy="355.0" r="2.75"/>
<circle cx="169.3" cy="361.4" r="2.75"/>
<circle cx="150.2" cy="361.7" r="2.75"/>
<circle cx="167.1" cy="371.7" r="2.75"/>
<circle cx="165.6" cy="381.7" r="2.75"/>
<circle cx="155.8" cy="411.0" r="2.75"/>
<circle cx="158.0" cy="395.0" r="2.75"/>
<circle cx="152.8" cy="348.5" r="2.75"/>
<circle cx="160.7" cy="366.6" r="2.75"/>
<circle cx="151.2" cy="364.3" r="2.75"/>
<circle cx="159.7" cy="347.2" r="2.75"/>
<circle cx="153.2" cy="338.6" r="2.75"/>
<circle cx="155.1" cy="364.8" r="2.75"/>
<circle cx="162.8" cy="362.1" r="2.75"/>
<circle cx="159.9" cy="378.4" r="2.75"/>
<circle cx="155.9" cy="354.2" r="2.75"/>
<circle cx="157.2" cy="376.5" r="2.75"/>
<circle cx="159.1" cy="355.2" r="2.75"/>
<circle cx="155.0" cy="358.8" r="2.75"/>
<circle cx="153.6" cy="353.6" r="2.75"/>
<circle cx="158.2" cy="382.7" r="2.75"/>
<circle cx="154.7" cy="338.3" r="2.75"/>
<circle cx="158.6" cy="352.5" r="2.75"/>
<circle cx="160.2" cy="347.5" r="2.75"/>
<circle cx="162.0" cy="367.1" r="2.75"/>
<circle cx="162.0" cy="371.8" r="2.75"/>
<circle cx="154.0" cy="379.5" r="2.75"/>
<circle cx="151.5" cy="343.7" r="2.75"/>
<circle cx="151.3" cy="370.6" r="2.75"/>
<circle cx="160.7" cy="356.6" r="2.75"/>
<circle cx="157.9" cy="369.9" r="2.75"/>
<circle cx="161.2" cy="347.0" r="2.75"/>
<circle cx="152.4" cy="362.8" r="2.75"/>
<circle cx="161.4" cy="366.6" r="2.75"/>
<circle cx="161.6" cy="351.0" r="2.75"/>
<circle cx="158.3" cy="340.0" r="2.75"/>
<circle cx="160.9" cy="349.1" r="2.75"/>
<circle cx="467.0" cy="316.0" r="2.75"/>
<circle cx="438.0" cy="330.0" r="2.75"/>
<circle cx="442.5" cy="333.0" r="2.75"/>
<circle cx="433.2" cy="338.0" r="2.75"/>
<circle cx="455.5" cy="337.0" r="2.75"/>
<circle cx="464.0" cy="331.0" r="2.75"/>
<circle cx="461.5" cy="345.0" r="2.75"/>
<circle cx="431.0" cy="346.0" r="2.75"/>
<circle cx="428.0" cy="350.0" r="2.75"/>
<circle cx="448.0" cy="347.0" r="2.75"/>
<circle cx="425.0" cy="352.5" r="2.75"/>
<circle cx="464.0" cy="369.5" r="2.75"/>
<circle cx="427.9" cy="383.2" r="2.75"/>
<circle cx="462.5" cy="386.7" r="2.75"/>
<circle cx="462.5" cy="380.0" r="2.75"/>
<circle cx="438.4" cy="378.0" r="2.75"/>
<circle cx="441.0" cy="375.0" r="2.75"/>
<circle cx="456.0" cy="376.0" r="2.75"/>
<circle cx="449.0" cy="372.0" r="2.75"/>
<circle cx="433.0" cy="368.0" r="2.75"/>
<circle cx="458.1" cy="353.6" r="2.75"/>
<circle cx="450.1" cy="368.2" r="2.75"/>
<circle cx="440.0" cy="351.9" r="2.75"/>
<circle cx="429.7" cy="351.3" r="2.75"/>
<circle cx="456.7" cy="351.8" r="2.75"/>
<circle cx="434.0" cy="336.0" r="2.75"/>
<circle cx="453.9" cy="342.6" r="2.75"/>
<circle cx="454.2" cy="352.4" r="2.75"/>
<circle cx="429.0" cy="356.4" r="2.75"/>
<circle cx="456.8" cy="346.5" r="2.75"/>
<circle cx="458.7" cy="351.9" r="2.75"/>
<circle cx="452.9" cy="348.3" r="2.75"/>
<circle cx="439.7" cy="354.0" r="2.75"/>
<circle cx="433.1" cy="349.8" r="2.75"/>
<circle cx="459.2" cy="352.0" r="2.75"/>
<circle cx="449.8" cy="337.5" r="2.75"/>
<circle cx="457.2" cy="357.4" r="2.75"/>
<circle cx="432.8" cy="350.4" r="2.75"/>
<circle cx="442.5" cy="351.5" r="2.75"/>
<circle cx="457.2" cy="356.1" r="2.75"/>
<circle cx="452.7" cy="351.5" r="2.75"/>
<circle cx="440.3" cy="350.2" r="2.75"/>
<circle cx="431.5" cy="345.2" r="2.75"/>
<circle cx="430.6" cy="341.0" r="2.75"/>
<circle cx="432.5" cy="347.2" r="2.75"/>
<circle cx="433.1" cy="355.7" r="2.75"/>
<circle cx="428.5" cy="343.6" r="2.75"/>
<circle cx="437.6" cy="362.2" r="2.75"/>
<circle cx="462.8" cy="354.1" r="2.75"/>
<circle cx="440.6" cy="347.3" r="2.75"/>
<circle cx="444.6" cy="363.8" r="2.75"/>
<circle cx="443.9" cy="348.0" r="2.75"/>
<circle cx="445.5" cy="354.4" r="2.75"/>
<circle cx="445.8" cy="351.3" r="2.75"/>
<circle cx="432.6" cy="352.4" r="2.75"/>
<circle cx="460.8" cy="340.7" r="2.75"/>
<circle cx="444.7" cy="338.3" r="2.75"/>
<circle cx="437.7" cy="370.1" r="2.75"/>
<circle cx="443.2" cy="351.6" r="2.75"/>
<circle cx="454.2" cy="342.8" r="2.75"/>
<circle cx="453.2" cy="348.2" r="2.75"/>
<circle cx="432.1" cy="349.3" r="2.75"/>
<circle cx="460.7" cy="350.5" r="2.75"/>
<circle cx="461.7" cy="345.7" r="2.75"/>
<circle cx="455.7" cy="360.2" r="2.75"/>
<circle cx="442.0" cy="358.4" r="2.75"/>
<circle cx="438.4" cy="356.8" r="2.75"/>
<circle cx="454.5" cy="343.0" r="2.75"/>
<circle cx="461.5" cy="346.8" r="2.75"/>
<circle cx="445.4" cy="359.9" r="2.75"/>
<circle cx="446.7" cy="343.6" r="2.75"/>
<circle cx="449.3" cy="347.7" r="2.75"/>
<circle cx="434.2" cy="341.7" r="2.75"/>
<circle cx="442.8" cy="352.0" r="2.75"/>
<circle cx="455.9" cy="347.9" r="2.75"/>
<circle cx="451.1" cy="350.2" r="2.75"/>
<circle cx="440.7" cy="356.8" r="2.75"/>
<circle cx="454.0" cy="352.4" r="2.75"/>
<circle cx="440.1" cy="338.2" r="2.75"/>
<circle cx="452.4" cy="351.5" r="2.75"/>
<circle cx="446.6" cy="346.1" r="2.75"/>
<circle cx="441.6" cy="346.2" r="2.75"/>
<circle cx="441.9" cy="344.2" r="2.75"/>
<circle cx="447.5" cy="349.4" r="2.75"/>
<circle cx="435.9" cy="352.4" r="2.75"/>
<circle cx="428.7" cy="343.9" r="2.75"/>
<circle cx="456.6" cy="344.3" r="2.75"/>
<circle cx="442.9" cy="336.0" r="2.75"/>
<circle cx="437.7" cy="343.4" r="2.75"/>
<circle cx="453.1" cy="363.1" r="2.75"/>
<circle cx="451.3" cy="336.8" r="2.75"/>
<circle cx="449.6" cy="351.2" r="2.75"/>
<circle cx="449.3" cy="362.3" r="2.75"/>
<circle cx="437.3" cy="351.5" r="2.75"/>
<circle cx="454.6" cy="343.7" r="2.75"/>
<circle cx="437.9" cy="350.5" r="2.75"/>
<circle cx="450.3" cy="347.6" r="2.75"/>
<circle cx="438.7" cy="352.5" r="2.75"/>
<circle cx="431.2" cy="336.0" r="2.75"/>
<circle cx="431.1" cy="348.6" r="2.75"/>
<circle cx="487.0" cy="329.0" r="2.75"/>
<circle cx="507.0" cy="330.0" r="2.75"/>
<circle cx="495.5" cy="338.0" r="2.75"/>
<circle cx="488.0" cy="342.0" r="2.75"/>
<circle cx="501.5" cy="340.0" r="2.75"/>
<circle cx="504.0" cy="341.0" r="2.75"/>
<circle cx="509.0" cy="336.0" r="2.75"/>
<circle cx="510.5" cy="337.0" r="2.75"/>
<circle cx="520.5" cy="341.0" r="2.75"/>
<circle cx="519.0" cy="343.0" r="2.75"/>
<circle cx="513.5" cy="346.0" r="2.75"/>
<circle cx="522.0" cy="348.0" r="2.75"/>
<circle cx="525.0" cy="356.0" r="2.75"/>
<circle cx="524.5" cy="363.0" r="2.75"/>
<circle cx="526.0" cy="376.0" r="2.75"/>
<circle cx="502.0" cy="376.0" r="2.75"/>
<circle cx="487.0" cy="358.5" r="2.75"/>
<circle cx="497.5" cy="374.0" r="2.75"/>
<circle cx="504.5" cy="376.0" r="2.75"/>
<circle cx="518.5" cy="368.0" r="2.75"/>
<circle cx="519.0" cy="372.0" r="2.75"/>
<circle cx="522.2" cy="370.0" r="2.75"/>
<circle cx="507.0" cy="325.0" r="2.75"/>
<circle cx="492.0" cy="332.0" r="2.75"/>
<circle cx="498.0" cy="333.0" r="2.75"/>
<circle cx="514.0" cy="332.0" r="2.75"/>
<circle cx="517.0" cy="334.0" r="2.75"/>
<circle cx="487.7" cy="348.0" r="2.75"/>
<circle cx="487.4" cy="354.3" r="2.75"/>
<circle cx="492.2" cy="338.0" r="2.75"/>
<circle cx="509.9" cy="356.4" r="2.75"/>
<circle cx="505.7" cy="356.9" r="2.75"/>
<circle cx="508.6" cy="363.5" r="2.75"/>
<circle cx="490.2" cy="361.5" r="2.75"/>
<circle cx="512.6" cy="339.6" r="2.75"/>
<circle cx="506.0" cy="349.7" r="2.75"/>
<circle cx="496.4" cy="352.1" r="2.75"/>
<circle cx="506.4" cy="356.8" r="2.75"/>
<circle cx="496.4" cy="346.0" r="2.75"/>
<circle cx="495.5" cy="362.6" r="2.75"/>
<circle cx="512.2" cy="344.0" r="2.75"/>
<circle cx="487.1" cy="355.8" r="2.75"/>
<circle cx="509.4" cy="345.2" r="2.75"/>
<circle cx="513.3" cy="356.4" r="2.75"/>
<circle cx="509.8" cy="334.0" r="2.75"/>
<circle cx="502.4" cy="368.3" r="2.75"/>
<circle cx="508.4" cy="360.1" r="2.75"/>
<circle cx="499.7" cy="370.6" r="2.75"/>
<circle cx="504.8" cy="365.1" r="2.75"/>
<circle cx="506.6" cy="351.3" r="2.75"/>
<circle cx="507.0" cy="339.4" r="2.75"/>
<circle cx="500.1" cy="339.3" r="2.75"/>
<circle cx="495.6" cy="348.7" r="2.75"/>
<circle cx="491.8" cy="344.8" r="2.75"/>
<circle cx="507.7" cy="359.1" r="2.75"/>
<circle cx="501.2" cy="349.8" r="2.75"/>
<circle cx="500.3" cy="347.3" r="2.75"/>
<circle cx="511.2" cy="371.0" r="2.75"/>
<circle cx="497.3" cy="351.9" r="2.75"/>
<circle cx="509.8" cy="345.5" r="2.75"/>
<circle cx="496.0" cy="346.2" r="2.75"/>
<circle cx="489.3" cy="350.0" r="2.75"/>
<circle cx="505.1" cy="343.8" r="2.75"/>
<circle cx="503.5" cy="349.8" r="2.75"/>
<circle cx="503.3" cy="343.7" r="2.75"/>
<circle cx="509.9" cy="352.0" r="2.75"/>
<circle cx="498.3" cy="349.7" r="2.75"/>
<circle cx="506.2" cy="348.4" r="2.75"/>
<circle cx="512.9" cy="359.2" r="2.75"/>
<circle cx="510.8" cy="351.3" r="2.75"/>
<circle cx="492.4" cy="337.8" r="2.75"/>
<circle cx="491.8" cy="347.6" r="2.75"/>
<circle cx="499.3" cy="355.3" r="2.75"/>
<circle cx="508.0" cy="336.8" r="2.75"/>
<circle cx="508.9" cy="353.7" r="2.75"/>
<circle cx="499.8" cy="355.7" r="2.75"/>
<circle cx="490.9" cy="348.1" r="2.75"/>
<circle cx="545.8" cy="364.3" r="2.75"/>
<circle cx="550.0" cy="355.0" r="2.75"/>
<circle cx="552.9" cy="348.0" r="2.75"/>
<circle cx="553.4" cy="343.0" r="2.75"/>
<circle cx="546.6" cy="350.0" r="2.75"/>
<circle cx="553.0" cy="300.0" r="2.75"/>
<circle cx="548.0" cy="318.0" r="2.75"/>
<circle cx="544.8" cy="337.2" r="2.75"/>
<circle cx="544.8" cy="364.0" r="2.75"/>
<circle cx="562.0" cy="271.5" r="2.75"/>
<circle cx="551.5" cy="319.0" r="2.75"/>
<circle cx="560.6" cy="292.4" r="2.75"/>
<circle cx="559.9" cy="300.1" r="2.75"/>
<circle cx="550.1" cy="350.3" r="2.75"/>
<circle cx="548.3" cy="334.5" r="2.75"/>
<circle cx="558.2" cy="303.5" r="2.75"/>
<circle cx="562.6" cy="273.2" r="2.75"/>
<circle cx="563.7" cy="271.7" r="2.75"/>
<circle cx="563.5" cy="271.4" r="2.75"/>
<circle cx="562.1" cy="267.6" r="2.75"/>
<circle cx="565.1" cy="261.4" r="2.75"/>
<circle cx="563.3" cy="265.0" r="2.75"/>
<circle cx="557.0" cy="316.7" r="2.75"/>
<circle cx="546.9" cy="361.7" r="2.75"/>
<circle cx="560.0" cy="300.8" r="2.75"/>
<circle cx="547.2" cy="361.2" r="2.75"/>
<circle cx="549.5" cy="356.0" r="2.75"/>
<circle cx="547.9" cy="355.8" r="2.75"/>
<circle cx="549.3" cy="336.7" r="2.75"/>
<circle cx="558.1" cy="298.2" r="2.75"/>
<circle cx="564.1" cy="264.3" r="2.75"/>
<circle cx="554.0" cy="327.9" r="2.75"/>
<circle cx="559.9" cy="282.3" r="2.75"/>
<circle cx="548.8" cy="337.1" r="2.75"/>
<circle cx="549.5" cy="324.2" r="2.75"/>
<circle cx="552.6" cy="330.5" r="2.75"/>
<circle cx="548.1" cy="324.1" r="2.75"/>
<circle cx="551.5" cy="318.1" r="2.75"/>
<circle cx="554.3" cy="321.4" r="2.75"/>
<circle cx="547.8" cy="331.5" r="2.75"/>
<circle cx="560.4" cy="279.0" r="2.75"/>
<circle cx="547.3" cy="361.1" r="2.75"/>
<circle cx="549.0" cy="361.0" r="2.75"/>
<circle cx="556.5" cy="312.2" r="2.75"/>
<circle cx="558.3" cy="292.9" r="2.75"/>
<circle cx="563.7" cy="261.7" r="2.75"/>
<circle cx="560.6" cy="279.1" r="2.75"/>
<circle cx="565.2" cy="261.2" r="2.75"/>
<circle cx="561.7" cy="279.3" r="2.75"/>
<circle cx="562.2" cy="283.5" r="2.75"/>
<circle cx="548.6" cy="324.1" r="2.75"/>
<circle cx="562.5" cy="260.9" r="2.75"/>
<circle cx="562.7" cy="271.1" r="2.75"/>
<circle cx="563.1" cy="274.2" r="2.75"/>
<circle cx="557.1" cy="292.6" r="2.75"/>
<circle cx="551.8" cy="328.3" r="2.75"/>
<circle cx="561.7" cy="268.4" r="2.75"/>
<circle cx="549.0" cy="357.0" r="2.75"/>
<circle cx="551.0" cy="312.0" r="2.75"/>
<circle cx="561.7" cy="265.0" r="2.75"/>
<circle cx="550.3" cy="342.5" r="2.75"/>
<circle cx="560.0" cy="276.4" r="2.75"/>
<circle cx="547.2" cy="359.7" r="2.75"/>
<circle cx="557.0" cy="299.9" r="2.75"/>
<circle cx="563.7" cy="258.8" r="2.75"/>
<circle cx="550.3" cy="332.1" r="2.75"/>
<circle cx="547.9" cy="351.3" r="2.75"/>
<circle cx="548.2" cy="355.7" r="2.75"/>
<circle cx="565.2" cy="262.8" r="2.75"/>
<circle cx="563.3" cy="263.7" r="2.75"/>
<circle cx="560.8" cy="303.3" r="2.75"/>
<circle cx="561.0" cy="271.0" r="2.75"/>
<circle cx="549.5" cy="344.7" r="2.75"/>
<circle cx="551.0" cy="317.9" r="2.75"/>
<circle cx="564.6" cy="259.5" r="2.75"/>
<circle cx="560.6" cy="307.0" r="2.75"/>
<circle cx="562.9" cy="263.9" r="2.75"/>
<circle cx="562.3" cy="263.9" r="2.75"/>
<circle cx="553.9" cy="314.2" r="2.75"/>
<circle cx="560.5" cy="288.8" r="2.75"/>
<circle cx="550.0" cy="352.3" r="2.75"/>
<circle cx="559.7" cy="306.4" r="2.75"/>
<circle cx="548.2" cy="341.5" r="2.75"/>
<circle cx="559.8" cy="292.7" r="2.75"/>
<circle cx="564.4" cy="263.6" r="2.75"/>
<circle cx="557.7" cy="297.4" r="2.75"/>
<circle cx="560.8" cy="284.9" r="2.75"/>
<circle cx="555.4" cy="327.6" r="2.75"/>
<circle cx="549.7" cy="350.5" r="2.75"/>
<circle cx="547.2" cy="358.9" r="2.75"/>
<circle cx="549.1" cy="349.3" r="2.75"/>
<circle cx="561.2" cy="278.8" r="2.75"/>
<circle cx="560.9" cy="271.1" r="2.75"/>
<circle cx="547.2" cy="353.9" r="2.75"/>
<circle cx="558.8" cy="285.4" r="2.75"/>
<circle cx="553.2" cy="318.7" r="2.75"/>
<circle cx="561.6" cy="279.4" r="2.75"/>
<circle cx="558.1" cy="299.5" r="2.75"/>
<circle cx="561.3" cy="283.6" r="2.75"/>
<circle cx="548.2" cy="351.0" r="2.75"/>
<circle cx="549.3" cy="349.2" r="2.75"/>
<circle cx="563.7" cy="272.2" r="2.75"/>
<circle cx="561.8" cy="289.3" r="2.75"/>
<circle cx="560.8" cy="274.8" r="2.75"/>
<circle cx="557.4" cy="307.1" r="2.75"/>
<circle cx="563.5" cy="269.3" r="2.75"/>
<circle cx="550.7" cy="316.5" r="2.75"/>
<circle cx="552.0" cy="323.5" r="2.75"/>
<circle cx="558.5" cy="298.6" r="2.75"/>
<circle cx="557.4" cy="316.6" r="2.75"/>
<circle cx="562.2" cy="284.7" r="2.75"/>
<circle cx="557.2" cy="302.1" r="2.75"/>
<circle cx="562.0" cy="276.3" r="2.75"/>
<circle cx="559.1" cy="311.7" r="2.75"/>
<circle cx="555.1" cy="306.3" r="2.75"/>
<circle cx="560.5" cy="290.9" r="2.75"/>
<circle cx="549.6" cy="355.3" r="2.75"/>
<circle cx="548.1" cy="361.4" r="2.75"/>
<circle cx="552.0" cy="309.7" r="2.75"/>
<circle cx="561.0" cy="277.3" r="2.75"/>
<circle cx="557.2" cy="320.6" r="2.75"/>
<circle cx="559.7" cy="292.2" r="2.75"/>
<circle cx="561.4" cy="296.7" r="2.75"/>
<circle cx="549.3" cy="348.5" r="2.75"/>
<circle cx="548.3" cy="338.9" r="2.75"/>
<circle cx="561.5" cy="266.6" r="2.75"/>
<circle cx="554.5" cy="304.7" r="2.75"/>
<circle cx="560.0" cy="288.9" r="2.75"/>
<circle cx="547.2" cy="347.1" r="2.75"/>
<circle cx="569.5" cy="122.7" r="2.75"/>
<circle cx="568.8" cy="129.7" r="2.75"/>
<circle cx="568.0" cy="136.0" r="2.75"/>
<circle cx="570.0" cy="143.0" r="2.75"/>
<circle cx="568.0" cy="148.4" r="2.75"/>
<circle cx="568.0" cy="171.6" r="2.75"/>
<circle cx="566.9" cy="188.8" r="2.75"/>
<circle cx="566.4" cy="210.0" r="2.75"/>
<circle cx="565.6" cy="220.3" r="2.75"/>
<circle cx="565.2" cy="236.7" r="2.75"/>
<circle cx="564.8" cy="243.0" r="2.75"/>
<circle cx="564.0" cy="252.3" r="2.75"/>
<circle cx="569.3" cy="109.5" r="2.75"/>
<circle cx="569.6" cy="112.5" r="2.75"/>
<circle cx="568.9" cy="116.0" r="2.75"/>
<circle cx="569.4" cy="121.0" r="2.75"/>
<circle cx="569.0" cy="126.0" r="2.75"/>
<circle cx="570.2" cy="133.0" r="2.75"/>
<circle cx="572.7" cy="217.2" r="2.75"/>
<circle cx="572.7" cy="228.0" r="2.75"/>
<circle cx="573.1" cy="233.6" r="2.75"/>
<circle cx="573.4" cy="242.2" r="2.75"/>
<circle cx="575.2" cy="276.0" r="2.75"/>
<circle cx="574.2" cy="281.4" r="2.75"/>
<circle cx="574.7" cy="292.6" r="2.75"/>
<circle cx="580.5" cy="300.9" r="2.75"/>
<circle cx="581.0" cy="307.6" r="2.75"/>
<circle cx="577.7" cy="316.0" r="2.75"/>
<circle cx="579.3" cy="323.0" r="2.75"/>
<circle cx="583.0" cy="332.3" r="2.75"/>
<circle cx="583.0" cy="338.0" r="2.75"/>
<circle cx="582.8" cy="338.0" r="2.75"/>
<circle cx="582.3" cy="336.0" r="2.75"/>
<circle cx="575.5" cy="258.5" r="2.75"/>
</g>
<path d="M87.50 356.30 L87.75 356.30 L88.00 356.30 L88.25 356.30 L88.50 356.30 L88.75 356.30 L89.00 356.30 L89.25 356.30 L89.50 356.30 L89.75 356.30 L90.00 356.30 L90.25 356.30 L90.50 356.30 L90.75 356.30 L91.00 356.30 L91.25 356.30 L91.50 356.30 L91.75 356.30 L92.00 356.30 L92.25 356.30 L92.50 356.30 L92.75 356.30 L93.00 356.30 L93.25 356.30 L93.50 356.30 L93.75 356.30 L94.00 356.30 L94.25 356.30 L94.50 356.30 L94.75 356.30 L95.00 356.30 L95.25 356.30 L95.50 356.30 L95.75 356.30 L96.00 356.30 L96.25 356.30 L96.50 356.30 L96.75 356.30 L97.00 356.30 L97.25 356.30 L97.50 356.30 L97.75 356.30 L98.00 356.30 L98.25 356.30 L98.50 356.30 L98.75 356.30 L99.00 356.30 L99.25 356.30 L99.50 356.30 L99.75 356.30 L100.00 356.30 L100.25 356.30 L100.50 356.30 L100.75 356.30 L101.00 356.30 L101.25 356.30 L101.50 356.30 L101.75 356.30 L102.00 356.30 L102.25 356.30 L102.50 356.30 L102.75 356.30 L103.00 356.30 L103.25 356.30 L103.50 356.30 L103.75 356.30 L104.00 356.30 L104.25 356.30 L104.50 356.30 L104.75 356.30 L105.00 356.30 L105.25 356.30 L105.50 356.30 L105.75 356.30 L106.00 356.30 L106.25 356.30 L106.50 356.30 L106.75 356.30 L107.00 356.30 L107.25 356.30 L107.50 356.30 L107.75 356.30 L108.00 356.30 L108.25 356.30 L108.50 356.30 L108.75 356.30 L109.00 356.30 L109.25 356.30 L109.50 356.30 L109.75 356.30 L110.00 356.30 L110.25 356.30 L110.50 356.30 L110.75 356.30 L111.00 356.30 L111.25 356.30 L111.50 356.30 L111.75 356.30 L112.00 356.30 L112.25 356.30 L112.50 356.30 L112.75 356.30 L113.00 356.30 L113.25 356.30 L113.50 356.30 L113.75 356.30 L114.00 356.30 L114.25 356.30 L114.50 356.30 L114.75 356.30 L115.00 356.30 L115.25 356.30 L115.50 356.30 L115.75 356.30 L116.00 356.30 L116.25 356.30 L116.50 356.30 L116.75 356.30 L117.00 356.30 L117.25 356.30 L117.50 356.30 L117.75 356.30 L118.00 356.30 L118.25 356.30 L118.50 356.30 L118.75 356.30 L119.00 356.30 L119.25 356.30 L119.50 356.30 L119.75 356.30 L120.00 356.30 L120.25 356.30 L120.50 356.30 L120.75 356.30 L121.00 356.30 L121.25 356.30 L121.50 356.30 L121.75 356.30 L122.00 356.30 L122.25 356.30 L122.50 356.30 L122.75 356.30 L123.00 356.30 L123.25 356.30 L123.50 356.30 L123.75 356.30 L124.00 356.30 L124.25 356.30 L124.50 356.30 L124.75 356.30 L125.00 356.30 L125.25 356.30 L125.50 356.30 L125.75 356.30 L126.00 356.30 L126.25 356.30 L126.50 356.30 L126.75 356.30 L127.00 356.30 L127.25 356.30 L127.50 356.30 L127.75 356.30 L128.00 356.30 L128.25 356.30 L128.50 356.30 L128.75 356.30 L129.00 356.30 L129.25 356.30 L129.50 356.30 L129.75 356.30 L130.00 356.30 L130.25 356.30 L130.50 356.30 L130.75 356.30 L131.00 356.30 L131.25 356.30 L131.50 356.30 L131.75 356.30 L132.00 356.30 L132.25 356.30 L132.50 356.30 L132.75 356.30 L133.00 356.30 L133.25 356.30 L133.50 356.30 L133.75 356.30 L134.00 356.30 L134.25 356.30 L134.50 356.30 L134.75 356.30 L135.00 356.30 L135.25 356.30 L135.50 356.30 L135.75 356.30 L136.00 356.30 L136.25 356.30 L136.50 356.30 L136.75 356.30 L137.00 356.30 L137.25 356.30 L137.50 356.30 L137.75 356.30 L138.00 356.30 L138.25 356.30 L138.50 356.30 L138.75 356.30 L139.00 356.30 L139.25 356.30 L139.50 356.30 L139.75 356.30 L140.00 356.30 L140.25 356.30 L140.50 356.30 L140.75 356.30 L141.00 356.30 L141.25 356.30 L141.50 356.30 L141.75 356.30 L142.00 356.30 L142.25 356.30 L142.50 356.30 L142.75 356.30 L143.00 356.30 L143.25 356.30 L143.50 356.30 L143.75 356.30 L144.00 356.30 L144.25 356.30 L144.50 356.30 L144.75 356.30 L145.00 356.30 L145.25 356.30 L145.50 356.30 L145.75 356.30 L146.00 356.30 L146.25 356.30 L146.50 356.30 L146.75 356.30 L147.00 356.30 L147.25 356.30 L147.50 356.30 L147.75 356.30 L148.00 356.30 L148.25 356.30 L148.50 356.30 L148.75 356.30 L149.00 356.30 L149.25 356.30 L149.50 356.30 L149.75 356.30 L150.00 356.30 L150.25 356.30 L150.50 356.30 L150.75 356.30 L151.00 356.30 L151.25 356.30 L151.50 356.30 L151.75 356.30 L152.00 356.30 L152.25 356.30 L152.50 356.30 L152.75 356.30 L153.00 356.30 L153.25 356.30 L153.50 356.30 L153.75 356.30 L154.00 356.30 L154.25 356.30 L154.50 356.30 L154.75 356.30 L155.00 356.30 L155.25 356.30 L155.50 356.30 L155.75 356.30 L156.00 356.30 L156.25 356.30 L156.50 356.30 L156.75 356.30 L157.00 356.30 L157.25 356.30 L157.50 356.30 L157.75 356.30 L158.00 356.30 L158.25 356.30 L158.50 356.30 L158.75 356.30 L159.00 356.30 L159.25 356.30 L159.50 356.30 L159.75 356.30 L160.00 356.30 L160.25 356.30 L160.50 356.30 L160.75 356.30 L161.00 356.30 L161.25 356.30 L161.50 356.30 L161.75 356.30 L162.00 356.30 L162.25 356.30 L162.50 356.30 L162.75 356.30 L163.00 356.30 L163.25 356.30 L163.50 356.30 L163.75 356.30 L164.00 356.30 L164.25 356.30 L164.50 356.30 L164.75 356.30 L165.00 356.30 L165.25 356.30 L165.50 356.30 L165.75 356.30 L166.00 356.30 L166.25 356.30 L166.50 356.30 L166.75 356.30 L167.00 356.30 L167.25 356.30 L167.50 356.30 L167.75 356.30 L168.00 356.30 L168.25 356.30 L168.50 356.30 L168.75 356.30 L169.00 356.30 L169.25 356.30 L169.50 356.30 L169.75 356.30 L170.00 356.30 L170.25 356.30 L170.50 356.30 L170.75 356.30 L171.00 356.30 L171.25 356.30 L171.50 356.30 L171.75 356.30 L172.00 356.30 L172.25 356.30 L172.50 356.30 L172.75 356.30 L173.00 356.30 L173.25 356.30 L173.50 356.30 L173.75 356.30 L174.00 356.30 L174.25 356.30 L174.50 356.30 L174.75 356.30 L175.00 356.30 L175.25 356.30 L175.50 356.30 L175.75 356.30 L176.00 356.30 L176.25 356.30 L176.50 356.30 L176.75 356.30 L177.00 356.30 L177.25 356.30 L177.50 356.30 L177.75 356.30 L178.00 356.30 L178.25 356.30 L178.50 356.30 L178.75 356.30 L179.00 356.30 L179.25 356.30 L179.50 356.30 L179.75 356.30 L180.00 356.30 L180.25 356.30 L180.50 356.30 L180.75 356.30 L181.00 356.30 L181.25 356.30 L181.50 356.30 L181.75 356.30 L182.00 356.30 L182.25 356.30 L182.50 356.30 L182.75 356.30 L183.00 356.30 L183.25 356.30 L183.50 356.30 L183.75 356.30 L184.00 356.30 L184.25 356.30 L184.50 356.30 L184.75 356.30 L185.00 356.30 L185.25 356.30 L185.50 356.30 L185.75 356.30 L186.00 356.30 L186.25 356.30 L186.50 356.30 L186.75 356.30 L187.00 356.30 L187.25 356.30 L187.50 356.30 L187.75 356.30 L188.00 356.30 L188.25 356.30 L188.50 356.30 L188.75 356.30 L189.00 356.30 L189.25 356.30 L189.50 356.30 L189.75 356.30 L190.00 356.30 L190.25 356.30 L190.50 356.30 L190.75 356.30 L191.00 356.30 L191.25 356.30 L191.50 356.30 L191.75 356.30 L192.00 356.30 L192.25 356.30 L192.50 356.30 L192.75 356.30 L193.00 356.30 L193.25 356.30 L193.50 356.30 L193.75 356.30 L194.00 356.30 L194.25 356.30 L194.50 356.30 L194.75 356.30 L195.00 356.30 L195.25 356.30 L195.50 356.30 L195.75 356.30 L196.00 356.30 L196.25 356.30 L196.50 356.30 L196.75 356.30 L197.00 356.30 L197.25 356.30 L197.50 356.30 L197.75 356.30 L198.00 356.30 L198.25 356.30 L198.50 356.30 L198.75 356.30 L199.00 356.30 L199.25 356.30 L199.50 356.30 L199.75 356.30 L200.00 356.30 L200.25 356.30 L200.50 356.30 L200.75 356.30 L201.00 356.30 L201.25 356.30 L201.50 356.30 L201.75 356.30 L202.00 356.30 L202.25 356.30 L202.50 356.30 L202.75 356.30 L203.00 356.30 L203.25 356.30 L203.50 356.30 L203.75 356.30 L204.00 356.30 L204.25 356.30 L204.50 356.30 L204.75 356.30 L205.00 356.30 L205.25 356.30 L205.50 356.30 L205.75 356.30 L206.00 356.30 L206.25 356.30 L206.50 356.30 L206.75 356.30 L207.00 356.30 L207.25 356.30 L207.50 356.30 L207.75 356.30 L208.00 356.30 L208.25 356.30 L208.50 356.30 L208.75 356.30 L209.00 356.30 L209.25 356.30 L209.50 356.30 L209.75 356.30 L210.00 356.30 L210.25 356.30 L210.50 356.30 L210.75 356.30 L211.00 356.30 L211.25 356.30 L211.50 356.30 L211.75 356.30 L212.00 356.30 L212.25 356.30 L212.50 356.30 L212.75 356.30 L213.00 356.30 L213.25 356.30 L213.50 356.30 L213.75 356.30 L214.00 356.30 L214.25 356.30 L214.50 356.30 L214.75 356.30 L215.00 356.30 L215.25 356.30 L215.50 356.30 L215.75 356.30 L216.00 356.30 L216.25 356.30 L216.50 356.30 L216.75 356.30 L217.00 356.30 L217.25 356.30 L217.50 356.30 L217.75 356.30 L218.00 356.30 L218.25 356.30 L218.50 356.30 L218.75 356.30 L219.00 356.30 L219.25 356.30 L219.50 356.30 L219.75 356.30 L220.00 356.30 L220.25 356.30 L220.50 356.30 L220.75 356.30 L221.00 356.30 L221.25 356.30 L221.50 356.30 L221.75 356.30 L222.00 356.30 L222.25 356.30 L222.50 356.30 L222.75 356.30 L223.00 356.30 L223.25 356.30 L223.50 356.30 L223.75 356.30 L224.00 356.30 L224.25 356.30 L224.50 356.30 L224.75 356.30 L225.00 356.30 L225.25 356.30 L225.50 356.30 L225.75 356.30 L226.00 356.30 L226.25 356.30 L226.50 356.30 L226.75 356.30 L227.00 356.30 L227.25 356.30 L227.50 356.30 L227.75 356.30 L228.00 356.30 L228.25 356.30 L228.50 356.30 L228.75 356.30 L229.00 356.30 L229.25 356.30 L229.50 356.30 L229.75 356.30 L230.00 356.30 L230.25 356.30 L230.50 356.30 L230.75 356.30 L231.00 356.30 L231.25 356.30 L231.50 356.30 L231.75 356.30 L232.00 356.30 L232.25 356.30 L232.50 356.30 L232.75 356.30 L233.00 356.30 L233.25 356.30 L233.50 356.30 L233.75 356.30 L234.00 356.30 L234.25 356.30 L234.50 356.30 L234.75 356.30 L235.00 356.30 L235.25 356.30 L235.50 356.30 L235.75 356.30 L236.00 356.30 L236.25 356.30 L236.50 356.30 L236.75 356.30 L237.00 356.30 L237.25 356.30 L237.50 356.30 L237.75 356.30 L238.00 356.30 L238.25 356.30 L238.50 356.30 L238.75 356.30 L239.00 356.30 L239.25 356.30 L239.50 356.30 L239.75 356.30 L240.00 356.30 L240.25 356.30 L240.50 356.30 L240.75 356.30 L241.00 356.30 L241.25 356.30 L241.50 356.30 L241.75 356.30 L242.00 356.30 L242.25 356.30 L242.50 356.30 L242.75 356.30 L243.00 356.30 L243.25 356.30 L243.50 356.30 L243.75 356.30 L244.00 356.30 L244.25 356.30 L244.50 356.30 L244.75 356.30 L245.00 356.30 L245.25 356.30 L245.50 356.30 L245.75 356.30 L246.00 356.30 L246.25 356.30 L246.50 356.30 L246.75 356.30 L247.00 356.30 L247.25 356.30 L247.50 356.30 L247.75 356.30 L248.00 356.30 L248.25 356.30 L248.50 356.30 L248.75 356.30 L249.00 356.30 L249.25 356.30 L249.50 356.30 L249.75 356.30 L250.00 356.30 L250.25 356.30 L250.50 356.30 L250.75 356.30 L251.00 356.30 L251.25 356.30 L251.50 356.30 L251.75 356.30 L252.00 356.30 L252.25 356.30 L252.50 356.30 L252.75 356.30 L253.00 356.30 L253.25 356.30 L253.50 356.30 L253.75 356.30 L254.00 356.30 L254.25 356.30 L254.50 356.30 L254.75 356.30 L255.00 356.30 L255.25 356.30 L255.50 356.30 L255.75 356.30 L256.00 356.30 L256.25 356.30 L256.50 356.30 L256.75 356.30 L257.00 356.30 L257.25 356.30 L257.50 356.30 L257.75 356.30 L258.00 356.30 L258.25 356.30 L258.50 356.30 L258.75 356.30 L259.00 356.30 L259.25 356.30 L259.50 356.30 L259.75 356.30 L260.00 356.30 L260.25 356.30 L260.50 356.30 L260.75 356.30 L261.00 356.30 L261.25 356.30 L261.50 356.30 L261.75 356.30 L262.00 356.30 L262.25 356.30 L262.50 356.30 L262.75 356.30 L263.00 356.30 L263.25 356.30 L263.50 356.30 L263.75 356.30 L264.00 356.30 L264.25 356.30 L264.50 356.30 L264.75 356.30 L265.00 356.30 L265.25 356.30 L265.50 356.30 L265.75 356.30 L266.00 356.30 L266.25 356.30 L266.50 356.30 L266.75 356.30 L267.00 356.30 L267.25 356.30 L267.50 356.30 L267.75 356.30 L268.00 356.30 L268.25 356.30 L268.50 356.30 L268.75 356.30 L269.00 356.30 L269.25 356.30 L269.50 356.30 L269.75 356.30 L270.00 356.30 L270.25 356.30 L270.50 356.30 L270.75 356.30 L271.00 356.30 L271.25 356.30 L271.50 356.30 L271.75 356.30 L272.00 356.30 L272.25 356.30 L272.50 356.30 L272.75 356.30 L273.00 356.30 L273.25 356.30 L273.50 356.30 L273.75 356.30 L274.00 356.30 L274.25 356.30 L274.50 356.30 L274.75 356.30 L275.00 356.30 L275.25 356.30 L275.50 356.30 L275.75 356.30 L276.00 356.30 L276.25 356.30 L276.50 356.30 L276.75 356.30 L277.00 356.30 L277.25 356.30 L277.50 356.30 L277.75 356.30 L278.00 356.30 L278.25 356.30 L278.50 356.30 L278.75 356.30 L279.00 356.30 L279.25 356.30 L279.50 356.30 L279.75 356.30 L280.00 356.30 L280.25 356.30 L280.50 356.30 L280.75 356.30 L281.00 356.30 L281.25 356.30 L281.50 356.30 L281.75 356.30 L282.00 356.30 L282.25 356.30 L282.50 356.30 L282.75 356.30 L283.00 356.30 L283.25 356.30 L283.50 356.30 L283.75 356.30 L284.00 356.30 L284.25 356.30 L284.50 356.30 L284.75 356.30 L285.00 356.30 L285.25 356.30 L285.50 356.30 L285.75 356.30 L286.00 356.30 L286.25 356.30 L286.50 356.30 L286.75 356.30 L287.00 356.30 L287.25 356.30 L287.50 356.30 L287.75 356.30 L288.00 356.30 L288.25 356.30 L288.50 356.30 L288.75 356.30 L289.00 356.30 L289.25 356.30 L289.50 356.30 L289.75 356.30 L290.00 356.30 L290.25 356.30 L290.50 356.30 L290.75 356.30 L291.00 356.30 L291.25 356.30 L291.50 356.30 L291.75 356.30 L292.00 356.30 L292.25 356.30 L292.50 356.30 L292.75 356.30 L293.00 356.30 L293.25 356.30 L293.50 356.30 L293.75 356.30 L294.00 356.30 L294.25 356.30 L294.50 356.29 L294.75 356.29 L295.00 356.29 L295.25 356.29 L295.50 356.29 L295.75 356.29 L296.00 356.29 L296.25 356.29 L296.50 356.29 L296.75 356.29 L297.00 356.29 L297.25 356.29 L297.50 356.29 L297.75 356.29 L298.00 356.29 L298.25 356.29 L298.50 356.29 L298.75 356.29 L299.00 356.29 L299.25 356.29 L299.50 356.29 L299.75 356.29 L300.00 356.29 L300.25 356.29 L300.50 356.29 L300.75 356.29 L301.00 356.29 L301.25 356.29 L301.50 356.29 L301.75 356.29 L302.00 356.29 L302.25 356.29 L302.50 356.29 L302.75 356.29 L303.00 356.29 L303.25 356.29 L303.50 356.29 L303.75 356.29 L304.00 356.29 L304.25 356.29 L304.50 356.29 L304.75 356.29 L305.00 356.29 L305.25 356.29 L305.50 356.29 L305.75 356.29 L306.00 356.29 L306.25 356.29 L306.50 356.29 L306.75 356.29 L307.00 356.29 L307.25 356.29 L307.50 356.29 L307.75 356.29 L308.00 356.29 L308.25 356.29 L308.50 356.29 L308.75 356.29 L309.00 356.29 L309.25 356.29 L309.50 356.29 L309.75 356.29 L310.00 356.29 L310.25 356.29 L310.50 356.29 L310.75 356.29 L311.00 356.29 L311.25 356.29 L311.50 356.29 L311.75 356.29 L312.00 356.29 L312.25 356.29 L312.50 356.29 L312.75 356.29 L313.00 356.29 L313.25 356.29 L313.50 356.29 L313.75 356.29 L314.00 356.29 L314.25 356.29 L314.50 356.29 L314.75 356.29 L315.00 356.29 L315.25 356.29 L315.50 356.29 L315.75 356.29 L316.00 356.29 L316.25 356.29 L316.50 356.29 L316.75 356.29 L317.00 356.29 L317.25 356.29 L317.50 356.29 L317.75 356.29 L318.00 356.29 L318.25 356.29 L318.50 356.29 L318.75 356.29 L319.00 356.29 L319.25 356.29 L319.50 356.29 L319.75 356.29 L320.00 356.29 L320.25 356.29 L320.50 356.29 L320.75 356.29 L321.00 356.29 L321.25 356.29 L321.50 356.29 L321.75 356.29 L322.00 356.29 L322.25 356.29 L322.50 356.29 L322.75 356.29 L323.00 356.29 L323.25 356.29 L323.50 356.29 L323.75 356.29 L324.00 356.29 L324.25 356.29 L324.50 356.29 L324.75 356.29 L325.00 356.29 L325.25 356.29 L325.50 356.29 L325.75 356.29 L326.00 356.29 L326.25 356.29 L326.50 356.29 L326.75 356.29 L327.00 356.29 L327.25 356.29 L327.50 356.29 L327.75 356.29 L328.00 356.29 L328.25 356.29 L328.50 356.29 L328.75 356.29 L329.00 356.29 L329.25 356.29 L329.50 356.29 L329.75 356.29 L330.00 356.29 L330.25 356.29 L330.50 356.29 L330.75 356.29 L331.00 356.29 L331.25 356.29 L331.50 356.29 L331.75 356.29 L332.00 356.29 L332.25 356.29 L332.50 356.29 L332.75 356.29 L333.00 356.29 L333.25 356.29 L333.50 356.29 L333.75 356.29 L334.00 356.29 L334.25 356.29 L334.50 356.29 L334.75 356.29 L335.00 356.29 L335.25 356.29 L335.50 356.29 L335.75 356.29 L336.00 356.29 L336.25 356.29 L336.50 356.29 L336.75 356.29 L337.00 356.29 L337.25 356.29 L337.50 356.29 L337.75 356.29 L338.00 356.29 L338.25 356.29 L338.50 356.29 L338.75 356.29 L339.00 356.29 L339.25 356.29 L339.50 356.29 L339.75 356.29 L340.00 356.29 L340.25 356.29 L340.50 356.29 L340.75 356.29 L341.00 356.29 L341.25 356.29 L341.50 356.29 L341.75 356.29 L342.00 356.29 L342.25 356.29 L342.50 356.29 L342.75 356.29 L343.00 356.29 L343.25 356.29 L343.50 356.29 L343.75 356.29 L344.00 356.29 L344.25 356.29 L344.50 356.29 L344.75 356.29 L345.00 356.29 L345.25 356.29 L345.50 356.29 L345.75 356.29 L346.00 356.29 L346.25 356.29 L346.50 356.29 L346.75 356.29 L347.00 356.29 L347.25 356.29 L347.50 356.29 L347.75 356.29 L348.00 356.29 L348.25 356.29 L348.50 356.29 L348.75 356.29 L349.00 356.29 L349.25 356.29 L349.50 356.29 L349.75 356.29 L350.00 356.29 L350.25 356.29 L350.50 356.29 L350.75 356.29 L351.00 356.29 L351.25 356.29 L351.50 356.29 L351.75 356.29 L352.00 356.29 L352.25 356.29 L352.50 356.29 L352.75 356.29 L353.00 356.29 L353.25 356.29 L353.50 356.29 L353.75 356.29 L354.00 356.29 L354.25 356.29 L354.50 356.29 L354.75 356.29 L355.00 356.29 L355.25 356.29 L355.50 356.29 L355.75 356.29 L356.00 356.29 L356.25 356.29 L356.50 356.29 L356.75 356.29 L357.00 356.29 L357.25 356.29 L357.50 356.29 L357.75 356.29 L358.00 356.29 L358.25 356.29 L358.50 356.29 L358.75 356.29 L359.00 356.29 L359.25 356.29 L359.50 356.29 L359.75 356.29 L360.00 356.29 L360.25 356.29 L360.50 356.29 L360.75 356.29 L361.00 356.29 L361.25 356.29 L361.50 356.29 L361.75 356.28 L362.00 356.28 L362.25 356.28 L362.50 356.28 L362.75 356.28 L363.00 356.28 L363.25 356.28 L363.50 356.28 L363.75 356.28 L364.00 356.28 L364.25 356.28 L364.50 356.28 L364.75 356.28 L365.00 356.28 L365.25 356.28 L365.50 356.28 L365.75 356.28 L366.00 356.28 L366.25 356.28 L366.50 356.28 L366.75 356.28 L367.00 356.28 L367.25 356.28 L367.50 356.28 L367.75 356.28 L368.00 356.28 L368.25 356.28 L368.50 356.28 L368.75 356.28 L369.00 356.28 L369.25 356.28 L369.50 356.28 L369.75 356.28 L370.00 356.28 L370.25 356.28 L370.50 356.28 L370.75 356.28 L371.00 356.28 L371.25 356.28 L371.50 356.28 L371.75 356.28 L372.00 356.28 L372.25 356.28 L372.50 356.28 L372.75 356.28 L373.00 356.28 L373.25 356.28 L373.50 356.28 L373.75 356.28 L374.00 356.28 L374.25 356.28 L374.50 356.28 L374.75 356.28 L375.00 356.28 L375.25 356.28 L375.50 356.28 L375.75 356.28 L376.00 356.28 L376.25 356.28 L376.50 356.28 L376.75 356.28 L377.00 356.28 L377.25 356.28 L377.50 356.28 L377.75 356.28 L378.00 356.28 L378.25 356.28 L378.50 356.28 L378.75 356.28 L379.00 356.28 L379.25 356.28 L379.50 356.28 L379.75 356.28 L380.00 356.28 L380.25 356.28 L380.50 356.28 L380.75 356.28 L381.00 356.28 L381.25 356.28 L381.50 356.28 L381.75 356.28 L382.00 356.28 L382.25 356.28 L382.50 356.28 L382.75 356.28 L383.00 356.28 L383.25 356.28 L383.50 356.28 L383.75 356.28 L384.00 356.28 L384.25 356.28 L384.50 356.28 L384.75 356.28 L385.00 356.28 L385.25 356.28 L385.50 356.28 L385.75 356.28 L386.00 356.28 L386.25 356.28 L386.50 356.28 L386.75 356.28 L387.00 356.28 L387.25 356.28 L387.50 356.27 L387.75 356.27 L388.00 356.27 L388.25 356.27 L388.50 356.27 L388.75 356.27 L389.00 356.27 L389.25 356.27 L389.50 356.27 L389.75 356.27 L390.00 356.27 L390.25 356.27 L390.50 356.27 L390.75 356.27 L391.00 356.27 L391.25 356.27 L391.50 356.27 L391.75 356.27 L392.00 356.27 L392.25 356.27 L392.50 356.27 L392.75 356.27 L393.00 356.27 L393.25 356.27 L393.50 356.27 L393.75 356.27 L394.00 356.27 L394.25 356.27 L394.50 356.27 L394.75 356.27 L395.00 356.27 L395.25 356.27 L395.50 356.27 L395.75 356.27 L396.00 356.27 L396.25 356.27 L396.50 356.27 L396.75 356.27 L397.00 356.27 L397.25 356.27 L397.50 356.27 L397.75 356.27 L398.00 356.27 L398.25 356.27 L398.50 356.27 L398.75 356.27 L399.00 356.27 L399.25 356.27 L399.50 356.27 L399.75 356.27 L400.00 356.27 L400.25 356.27 L400.50 356.27 L400.75 356.27 L401.00 356.27 L401.25 356.27 L401.50 356.27 L401.75 356.27 L402.00 356.27 L402.25 356.27 L402.50 356.27 L402.75 356.26 L403.00 356.26 L403.25 356.26 L403.50 356.26 L403.75 356.26 L404.00 356.26 L404.25 356.26 L404.50 356.26 L404.75 356.26 L405.00 356.26 L405.25 356.26 L405.50 356.26 L405.75 356.26 L406.00 356.26 L406.25 356.26 L406.50 356.26 L406.75 356.26 L407.00 356.26 L407.25 356.26 L407.50 356.26 L407.75 356.26 L408.00 356.26 L408.25 356.26 L408.50 356.26 L408.75 356.26 L409.00 356.26 L409.25 356.26 L409.50 356.26 L409.75 356.26 L410.00 356.26 L410.25 356.26 L410.50 356.26 L410.75 356.26 L411.00 356.26 L411.25 356.26 L411.50 356.26 L411.75 356.26 L412.00 356.26 L412.25 356.26 L412.50 356.26 L412.75 356.26 L413.00 356.26 L413.25 356.25 L413.50 356.25 L413.75 356.25 L414.00 356.25 L414.25 356.25 L414.50 356.25 L414.75 356.25 L415.00 356.25 L415.25 356.25 L415.50 356.25 L415.75 356.25 L416.00 356.25 L416.25 356.25 L416.50 356.25 L416.75 356.25 L417.00 356.25 L417.25 356.25 L417.50 356.25 L417.75 356.25 L418.00 356.25 L418.25 356.25 L418.50 356.25 L418.75 356.25 L419.00 356.25 L419.25 356.25 L419.50 356.25 L419.75 356.25 L420.00 356.25 L420.25 356.25 L420.50 356.25 L420.75 356.25 L421.00 356.25 L421.25 356.25 L421.50 356.24 L421.75 356.24 L422.00 356.24 L422.25 356.24 L422.50 356.24 L422.75 356.24 L423.00 356.24 L423.25 356.24 L423.50 356.24 L423.75 356.24 L424.00 356.24 L424.25 356.24 L424.50 356.24 L424.75 356.24 L425.00 356.24 L425.25 356.24 L425.50 356.24 L425.75 356.24 L426.00 356.24 L426.25 356.24 L426.50 356.24 L426.75 356.24 L427.00 356.24 L427.25 356.24 L427.50 356.24 L427.75 356.23 L428.00 356.23 L428.25 356.23 L428.50 356.23 L428.75 356.23 L429.00 356.23 L429.25 356.23 L429.50 356.23 L429.75 356.23 L430.00 356.23 L430.25 356.23 L430.50 356.23 L430.75 356.23 L431.00 356.23 L431.25 356.23 L431.50 356.23 L431.75 356.23 L432.00 356.23 L432.25 356.23 L432.50 356.23 L432.75 356.23 L433.00 356.22 L433.25 356.22 L433.50 356.22 L433.75 356.22 L434.00 356.22 L434.25 356.22 L434.50 356.22 L434.75 356.22 L435.00 356.22 L435.25 356.22 L435.50 356.22 L435.75 356.22 L436.00 356.22 L436.25 356.22 L436.50 356.22 L436.75 356.22 L437.00 356.22 L437.25 356.22 L437.50 356.21 L437.75 356.21 L438.00 356.21 L438.25 356.21 L438.50 356.21 L438.75 356.21 L439.00 356.21 L439.25 356.21 L439.50 356.21 L439.75 356.21 L440.00 356.21 L440.25 356.21 L440.50 356.21 L440.75 356.21 L441.00 356.21 L441.25 356.21 L441.50 356.20 L441.75 356.20 L442.00 356.20 L442.25 356.20 L442.50 356.20 L442.75 356.20 L443.00 356.20 L443.25 356.20 L443.50 356.20 L443.75 356.20 L444.00 356.20 L444.25 356.20 L444.50 356.20 L444.75 356.19 L445.00 356.19 L445.25 356.19 L445.50 356.19 L445.75 356.19 L446.00 356.19 L446.25 356.19 L446.50 356.19 L446.75 356.19 L447.00 356.19 L447.25 356.19 L447.50 356.19 L447.75 356.19 L448.00 356.18 L448.25 356.18 L448.50 356.18 L448.75 356.18 L449.00 356.18 L449.25 356.18 L449.50 356.18 L449.75 356.18 L450.00 356.18 L450.25 356.18 L450.50 356.17 L450.75 356.17 L451.00 356.17 L451.25 356.17 L451.50 356.17 L451.75 356.17 L452.00 356.17 L452.25 356.17 L452.50 356.17 L452.75 356.17 L453.00 356.16 L453.25 356.16 L453.50 356.16 L453.75 356.16 L454.00 356.16 L454.25 356.16 L454.50 356.16 L454.75 356.16 L455.00 356.16 L455.25 356.15 L455.50 356.15 L455.75 356.15 L456.00 356.15 L456.25 356.15 L456.50 356.15 L456.75 356.15 L457.00 356.15 L457.25 356.14 L457.50 356.14 L457.75 356.14 L458.00 356.14 L458.25 356.14 L458.50 356.14 L458.75 356.14 L459.00 356.14 L459.25 356.13 L459.50 356.13 L459.75 356.13 L460.00 356.13 L460.25 356.13 L460.50 356.13 L460.75 356.13 L461.00 356.12 L461.25 356.12 L461.50 356.12 L461.75 356.12 L462.00 356.12 L462.25 356.12 L462.50 356.12 L462.75 356.11 L463.00 356.11 L463.25 356.11 L463.50 356.11 L463.75 356.11 L464.00 356.11 L464.25 356.10 L464.50 356.10 L464.75 356.10 L465.00 356.10 L465.25 356.10 L465.50 356.10 L465.75 356.09 L466.00 356.09 L466.25 356.09 L466.50 356.09 L466.75 356.09 L467.00 356.08 L467.25 356.08 L467.50 356.08 L467.75 356.08 L468.00 356.08 L468.25 356.07 L468.50 356.07 L468.75 356.07 L469.00 356.07 L469.25 356.07 L469.50 356.06 L469.75 356.06 L470.00 356.06 L470.25 356.06 L470.50 356.06 L470.75 356.05 L471.00 356.05 L471.25 356.05 L471.50 356.05 L471.75 356.04 L472.00 356.04 L472.25 356.04 L472.50 356.04 L472.75 356.04 L473.00 356.03 L473.25 356.03 L473.50 356.03 L473.75 356.03 L474.00 356.02 L474.25 356.02 L474.50 356.02 L474.75 356.01 L475.00 356.01 L475.25 356.01 L475.50 356.01 L475.75 356.00 L476.00 356.00 L476.25 356.00 L476.50 356.00 L476.75 355.99 L477.00 355.99 L477.25 355.99 L477.50 355.98 L477.75 355.98 L478.00 355.98 L478.25 355.97 L478.50 355.97 L478.75 355.97 L479.00 355.96 L479.25 355.96 L479.50 355.96 L479.75 355.95 L480.00 355.95 L480.25 355.95 L480.50 355.94 L480.75 355.94 L481.00 355.94 L481.25 355.93 L481.50 355.93 L481.75 355.93 L482.00 355.92 L482.25 355.92 L482.50 355.92 L482.75 355.91 L483.00 355.91 L483.25 355.90 L483.50 355.90 L483.75 355.90 L484.00 355.89 L484.25 355.89 L484.50 355.88 L484.75 355.88 L485.00 355.87 L485.25 355.87 L485.50 355.87 L485.75 355.86 L486.00 355.86 L486.25 355.85 L486.50 355.85 L486.75 355.84 L487.00 355.84 L487.25 355.83 L487.50 355.83 L487.75 355.82 L488.00 355.82 L488.25 355.81 L488.50 355.81 L488.75 355.80 L489.00 355.80 L489.25 355.79 L489.50 355.79 L489.75 355.78 L490.00 355.78 L490.25 355.77 L490.50 355.76 L490.75 355.76 L491.00 355.75 L491.25 355.75 L491.50 355.74 L491.75 355.73 L492.00 355.73 L492.25 355.72 L492.50 355.72 L492.75 355.71 L493.00 355.70 L493.25 355.70 L493.50 355.69 L493.75 355.68 L494.00 355.68 L494.25 355.67 L494.50 355.66 L494.75 355.65 L495.00 355.65 L495.25 355.64 L495.50 355.63 L495.75 355.62 L496.00 355.62 L496.25 355.61 L496.50 355.60 L496.75 355.59 L497.00 355.59 L497.25 355.58 L497.50 355.57 L497.75 355.56 L498.00 355.55 L498.25 355.54 L498.50 355.53 L498.75 355.53 L499.00 355.52 L499.25 355.51 L499.50 355.50 L499.75 355.49 L500.00 355.48 L500.25 355.47 L500.50 355.46 L500.75 355.45 L501.00 355.44 L501.25 355.43 L501.50 355.42 L501.75 355.41 L502.00 355.40 L502.25 355.39 L502.50 355.38 L502.75 355.36 L503.00 355.35 L503.25 355.34 L503.50 355.33 L503.75 355.32 L504.00 355.31 L504.25 355.29 L504.50 355.28 L504.75 355.27 L505.00 355.26 L505.25 355.24 L505.50 355.23 L505.75 355.22 L506.00 355.20 L506.25 355.19 L506.50 355.18 L506.75 355.16 L507.00 355.15 L507.25 355.13 L507.50 355.12 L507.75 355.10 L508.00 355.09 L508.25 355.07 L508.50 355.06 L508.75 355.04 L509.00 355.02 L509.25 355.01 L509.50 354.99 L509.75 354.97 L510.00 354.96 L510.25 354.94 L510.50 354.92 L510.75 354.90 L511.00 354.88 L511.25 354.86 L511.50 354.85 L511.75 354.83 L512.00 354.81 L512.25 354.79 L512.50 354.77 L512.75 354.75 L513.00 354.72 L513.25 354.70 L513.50 354.68 L513.75 354.66 L514.00 354.64 L514.25 354.61 L514.50 354.59 L514.75 354.57 L515.00 354.54 L515.25 354.52 L515.50 354.50 L515.75 354.47 L516.00 354.45 L516.25 354.42 L516.50 354.39 L516.75 354.37 L517.00 354.34 L517.25 354.31 L517.50 354.28 L517.75 354.25 L518.00 354.23 L518.25 354.20 L518.50 354.17 L518.75 354.14 L519.00 354.10 L519.25 354.07 L519.50 354.04 L519.75 354.01 L520.00 353.97 L520.25 353.94 L520.50 353.91 L520.75 353.87 L521.00 353.83 L521.25 353.80 L521.50 353.76 L521.75 353.72 L522.00 353.69 L522.25 353.65 L522.50 353.61 L522.75 353.57 L523.00 353.53 L523.25 353.48 L523.50 353.44 L523.75 353.40 L524.00 353.35 L524.25 353.31 L524.50 353.26 L524.75 353.22 L525.00 353.17 L525.25 353.12 L525.50 353.07 L525.75 353.02 L526.00 352.97 L526.25 352.92 L526.50 352.86 L526.75 352.81 L527.00 352.75 L527.25 352.70 L527.50 352.64 L527.75 352.58 L528.00 352.52 L528.25 352.46 L528.50 352.40 L528.75 352.34 L529.00 352.28 L529.25 352.21 L529.50 352.14 L529.75 352.08 L530.00 352.01 L530.25 351.94 L530.50 351.86 L530.75 351.79 L531.00 351.72 L531.25 351.64 L531.50 351.56 L531.75 351.48 L532.00 351.40 L532.25 351.32 L532.50 351.24 L532.75 351.15 L533.00 351.06 L533.25 350.97 L533.50 350.88 L533.75 350.79 L534.00 350.70 L534.25 350.60 L534.50 350.50 L534.75 350.40 L535.00 350.30 L535.25 350.19 L535.50 350.08 L535.75 349.98 L536.00 349.86 L536.25 349.75 L536.50 349.63 L536.75 349.51 L537.00 349.39 L537.25 349.27 L537.50 349.14 L537.75 349.01 L538.00 348.88 L538.25 348.75 L538.50 348.61 L538.75 348.47 L539.00 348.32 L539.25 348.18 L539.50 348.02 L539.75 347.87 L540.00 347.71 L540.25 347.55 L540.50 347.39 L540.75 347.22 L541.00 347.05 L541.25 346.87 L541.50 346.69 L541.75 346.51 L542.00 346.32 L542.25 346.13 L542.50 345.93 L542.75 345.73 L543.00 345.52 L543.25 345.31 L543.50 345.09 L543.75 344.87 L544.00 344.65 L544.25 344.41 L544.50 344.18 L544.75 343.93 L545.00 343.68 L545.25 343.43 L545.50 343.16 L545.75 342.90 L546.00 342.62 L546.25 342.34 L546.50 342.05 L546.75 341.75 L547.00 341.45 L547.25 341.14 L547.50 340.82 L547.75 340.49 L548.00 340.15 L548.25 339.81 L548.50 339.45 L548.75 339.09 L549.00 338.72 L549.25 338.33 L549.50 337.94 L549.75 337.53 L550.00 337.12 L550.25 336.69 L550.50 336.25 L550.75 335.80 L551.00 335.34 L551.25 334.86 L551.50 334.37 L551.75 333.86 L552.00 333.34 L552.25 332.81 L552.50 332.26 L552.75 331.69 L553.00 331.11 L553.25 330.50 L553.50 329.88 L553.75 329.24 L554.00 328.58 L554.25 327.90 L554.50 327.20 L554.75 326.48 L555.00 325.73 L555.25 324.96 L555.50 324.16 L555.75 323.33 L556.00 322.48 L556.25 321.60 L556.50 320.68 L556.75 319.74 L557.00 318.76 L557.25 317.75 L557.50 316.70 L557.75 315.61 L558.00 314.48 L558.25 313.31 L558.50 312.09 L558.75 310.82 L559.00 309.51 L559.25 308.14 L559.50 306.72 L559.75 305.23 L560.00 303.69 L560.25 302.07 L560.50 300.39 L560.75 298.63 L561.00 296.79 L561.25 294.87 L561.50 292.85 L561.75 290.74 L562.00 288.52 L562.25 286.20 L562.50 283.75 L562.75 281.17 L563.00 278.45 L563.25 275.57 L563.50 272.54 L563.75 269.32 L564.00 265.91 L564.25 262.29 L564.50 258.44 L564.75 254.32 L565.00 249.93 L565.25 245.22 L565.50 240.17 L565.75 234.74 L566.00 228.87 L566.25 222.53 L566.50 215.66 L566.75 208.19 L567.00 200.05 L567.25 191.18 L567.50 181.52 L567.75 171.02 L568.00 159.73 L568.25 147.79 L568.50 135.62 L568.75 124.08 L569.00 114.60 L569.25 109.01 L569.50 108.76 L569.75 113.92 L570.00 123.14 L570.25 134.56 L570.50 146.71 L570.75 158.70 L571.00 170.06 L571.25 180.63 L571.50 190.36 L571.75 199.30 L572.00 207.50 L572.25 215.03 L572.50 221.95 L572.75 228.34 L573.00 234.24 L573.25 239.71 L573.50 244.79 L573.75 249.53 L574.00 253.95 L574.25 258.08 L574.50 261.96 L574.75 265.60 L575.00 269.03 L575.25 272.26 L575.50 275.31 L575.75 278.20 L576.00 280.93 L576.25 283.52 L576.50 285.98 L576.75 288.32 L577.00 290.55 L577.25 292.67 L577.50 294.70 L577.75 296.63 L578.00 298.47 L578.25 300.24 L578.50 301.93 L578.75 303.55 L579.00 305.10 L579.25 306.59 L579.50 308.02 L579.75 309.39 L580.00 310.71 L580.25 311.98 L580.50 313.20 L580.75 314.38 L581.00 315.51 L581.25 316.60 L581.50 317.66 L581.75 318.67 L582.00 319.66 L582.25 320.60 L582.50 321.52 L582.75 322.40 L583.00 323.26 L583.25 324.09 L583.50 324.89 L583.75 325.66 L584.00 326.41 L584.25 327.14 L584.50 327.84 L584.75 328.52 L585.00 329.19 L585.25 329.83 L585.50 330.45 L585.75 331.05 L586.00 331.64 L586.25 332.21 L586.50 332.76 L586.75 333.30 L587.00 333.82 L587.25 334.32 L587.50 334.82" stroke="#ff00ff" stroke-width="1.2" fill="none"/>
</svg>
</body></html>
